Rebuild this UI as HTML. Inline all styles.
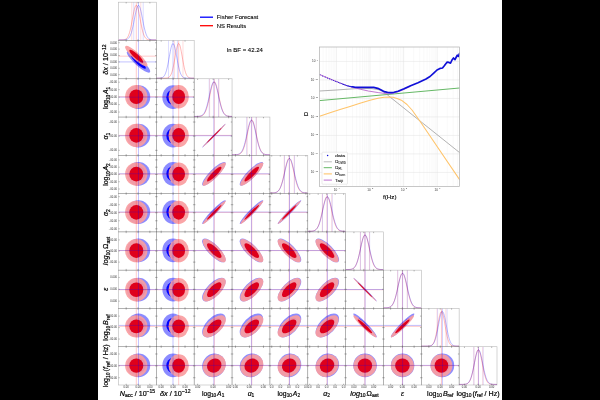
<!DOCTYPE html>
<html><head><meta charset="utf-8"><title>corner plot</title>
<style>html,body{margin:0;padding:0;background:#000;}body{width:600px;height:400px;overflow:hidden;font-family:"Liberation Sans",sans-serif;}svg{display:block;will-change:transform;}</style>
</head><body>
<svg width="600" height="400" viewBox="0 0 600 400">
<rect x="0" y="0" width="600" height="400" fill="#000"/>
<rect x="98" y="0" width="404" height="400" fill="#fff"/>
<clipPath id="c0_0"><rect x="118.50" y="2.20" width="37.85" height="38.28"/></clipPath>
<g clip-path="url(#c0_0)">
<line x1="136.29" y1="2.20" x2="136.29" y2="40.48" stroke="#ff0000" stroke-opacity="0.42" stroke-width="0.5"/>
<line x1="131.79" y1="2.20" x2="131.79" y2="40.48" stroke="#ff0000" stroke-opacity="0.27" stroke-width="0.5"/>
<line x1="140.79" y1="2.20" x2="140.79" y2="40.48" stroke="#ff0000" stroke-opacity="0.27" stroke-width="0.5"/>
<line x1="138.48" y1="2.20" x2="138.48" y2="40.48" stroke="#0000ff" stroke-opacity="0.42" stroke-width="0.5"/>
<line x1="133.76" y1="2.20" x2="133.76" y2="40.48" stroke="#0000ff" stroke-opacity="0.27" stroke-width="0.5"/>
<line x1="143.21" y1="2.20" x2="143.21" y2="40.48" stroke="#0000ff" stroke-opacity="0.27" stroke-width="0.5"/>
<polyline points="118.50,39.88 118.98,39.88 119.46,39.88 119.94,39.88 120.42,39.87 120.90,39.87 121.37,39.86 121.85,39.85 122.33,39.83 122.81,39.81 123.29,39.77 123.77,39.71 124.25,39.63 124.73,39.51 125.21,39.35 125.69,39.13 126.17,38.82 126.64,38.42 127.12,37.90 127.60,37.23 128.08,36.39 128.56,35.35 129.04,34.10 129.52,32.61 130.00,30.89 130.48,28.93 130.96,26.74 131.44,24.37 131.92,21.85 132.39,19.25 132.87,16.64 133.35,14.10 133.83,11.73 134.31,9.61 134.79,7.85 135.27,6.50 135.75,5.64 136.23,5.30 136.71,5.50 137.19,6.23 137.66,7.46 138.14,9.12 138.62,11.15 139.10,13.46 139.58,15.96 140.06,18.57 140.54,21.18 141.02,23.73 141.50,26.14 141.98,28.38 142.46,30.40 142.93,32.19 143.41,33.74 143.89,35.05 144.37,36.14 144.85,37.03 145.33,37.74 145.81,38.30 146.29,38.73 146.77,39.06 147.25,39.30 147.73,39.48 148.21,39.60 148.68,39.69 149.16,39.76 149.64,39.80 150.12,39.83 150.60,39.85 151.08,39.86 151.56,39.87 152.04,39.87 152.52,39.88 153.00,39.88 153.48,39.88 153.95,39.88 154.43,39.88 154.91,39.88 155.39,39.88 155.87,39.88 156.35,39.88" fill="none" stroke="#ff0000" stroke-opacity="0.55" stroke-width="0.5"/>
<polyline points="118.50,39.88 118.98,39.88 119.46,39.88 119.94,39.88 120.42,39.88 120.90,39.88 121.37,39.88 121.85,39.87 122.33,39.87 122.81,39.86 123.29,39.85 123.77,39.84 124.25,39.81 124.73,39.78 125.21,39.73 125.69,39.66 126.17,39.56 126.64,39.43 127.12,39.24 127.60,38.99 128.08,38.66 128.56,38.23 129.04,37.69 129.52,37.00 130.00,36.15 130.48,35.12 130.96,33.88 131.44,32.44 131.92,30.78 132.39,28.90 132.87,26.82 133.35,24.57 133.83,22.18 134.31,19.70 134.79,17.21 135.27,14.76 135.75,12.45 136.23,10.34 136.71,8.52 137.19,7.06 137.66,6.01 138.14,5.42 138.62,5.32 139.10,5.70 139.58,6.56 140.06,7.85 140.54,9.53 141.02,11.53 141.50,13.76 141.98,16.16 142.46,18.64 142.93,21.13 143.41,23.57 143.89,25.88 144.37,28.04 144.85,30.01 145.33,31.76 145.81,33.30 146.29,34.62 146.77,35.74 147.25,36.66 147.73,37.41 148.21,38.02 148.68,38.49 149.16,38.86 149.64,39.14 150.12,39.35 150.60,39.51 151.08,39.62 151.56,39.70 152.04,39.76 152.52,39.80 153.00,39.83 153.48,39.85 153.95,39.86 154.43,39.87 154.91,39.87 155.39,39.87 155.87,39.88 156.35,39.88" fill="none" stroke="#0000ff" stroke-opacity="0.55" stroke-width="0.5"/>
</g>
<path d="M126.18,40.48v-1.25M126.18,2.20v1.25M138.03,40.48v-1.25M138.03,2.20v1.25M149.88,40.48v-1.25M149.88,2.20v1.25" stroke="#444" stroke-width="0.38" fill="none"/>
<rect x="118.50" y="2.20" width="37.85" height="38.28" fill="none" stroke="#1a1a1a" stroke-opacity="0.31" stroke-width="0.6"/>
<clipPath id="c1_0"><rect x="118.50" y="40.48" width="37.85" height="38.28"/></clipPath>
<g clip-path="url(#c1_0)">
<ellipse cx="0" cy="0" rx="15.46" ry="3.71" fill="#8c8cff" transform="translate(138.48,61.92) rotate(-137.80)"/>
<ellipse cx="0" cy="0" rx="9.71" ry="2.33" fill="#0000ff" transform="translate(138.48,61.92) rotate(-137.80)"/>
<ellipse cx="0" cy="0" rx="14.77" ry="3.55" fill="rgba(250,157,160,0.92)" transform="translate(136.29,56.17) rotate(-137.67)"/>
<ellipse cx="0" cy="0" rx="9.27" ry="2.23" fill="#de001c" transform="translate(136.29,56.17) rotate(-137.67)"/>
<line x1="136.29" y1="40.48" x2="136.29" y2="78.76" stroke="#ff0000" stroke-opacity="0.42" stroke-width="0.5"/>
<line x1="118.50" y1="56.17" x2="156.35" y2="56.17" stroke="#ff0000" stroke-opacity="0.42" stroke-width="0.5"/>
<line x1="138.48" y1="40.48" x2="138.48" y2="78.76" stroke="#0000ff" stroke-opacity="0.48" stroke-width="0.5"/>
<line x1="118.50" y1="61.92" x2="156.35" y2="61.92" stroke="#0000ff" stroke-opacity="0.48" stroke-width="0.5"/>
</g>
<path d="M126.18,78.76v-1.25M126.18,40.48v1.25M138.03,78.76v-1.25M138.03,40.48v1.25M149.88,78.76v-1.25M149.88,40.48v1.25M118.50,74.70h1.25M156.35,74.70h-1.25M118.50,68.31h1.25M156.35,68.31h-1.25M118.50,61.92h1.25M156.35,61.92h-1.25M118.50,55.52h1.25M156.35,55.52h-1.25M118.50,49.13h1.25M156.35,49.13h-1.25M118.50,42.74h1.25M156.35,42.74h-1.25" stroke="#444" stroke-width="0.38" fill="none"/>
<rect x="118.50" y="40.48" width="37.85" height="38.28" fill="none" stroke="#1a1a1a" stroke-opacity="0.31" stroke-width="0.6"/>
<clipPath id="c1_1"><rect x="156.35" y="40.48" width="37.85" height="38.28"/></clipPath>
<g clip-path="url(#c1_1)">
<line x1="178.68" y1="40.48" x2="178.68" y2="78.76" stroke="#ff0000" stroke-opacity="0.42" stroke-width="0.5"/>
<line x1="174.40" y1="40.48" x2="174.40" y2="78.76" stroke="#ff0000" stroke-opacity="0.27" stroke-width="0.5"/>
<line x1="182.97" y1="40.48" x2="182.97" y2="78.76" stroke="#ff0000" stroke-opacity="0.27" stroke-width="0.5"/>
<line x1="173.00" y1="40.48" x2="173.00" y2="78.76" stroke="#0000ff" stroke-opacity="0.42" stroke-width="0.5"/>
<line x1="168.53" y1="40.48" x2="168.53" y2="78.76" stroke="#0000ff" stroke-opacity="0.27" stroke-width="0.5"/>
<line x1="177.48" y1="40.48" x2="177.48" y2="78.76" stroke="#0000ff" stroke-opacity="0.27" stroke-width="0.5"/>
<polyline points="156.35,78.16 156.83,78.16 157.31,78.16 157.79,78.16 158.27,78.16 158.75,78.16 159.22,78.16 159.70,78.16 160.18,78.16 160.66,78.16 161.14,78.16 161.62,78.16 162.10,78.16 162.58,78.16 163.06,78.16 163.54,78.15 164.02,78.15 164.49,78.14 164.97,78.13 165.45,78.12 165.93,78.09 166.41,78.05 166.89,77.99 167.37,77.90 167.85,77.77 168.33,77.59 168.81,77.33 169.29,76.98 169.77,76.51 170.24,75.90 170.72,75.10 171.20,74.10 171.68,72.87 172.16,71.37 172.64,69.62 173.12,67.59 173.60,65.31 174.08,62.81 174.56,60.14 175.04,57.38 175.51,54.61 175.99,51.94 176.47,49.47 176.95,47.32 177.43,45.59 177.91,44.36 178.39,43.69 178.87,43.63 179.35,44.16 179.83,45.27 180.31,46.90 180.78,48.97 181.26,51.37 181.74,54.01 182.22,56.77 182.70,59.54 183.18,62.23 183.66,64.77 184.14,67.11 184.62,69.19 185.10,71.01 185.58,72.56 186.06,73.85 186.53,74.90 187.01,75.74 187.49,76.39 187.97,76.89 188.45,77.27 188.93,77.54 189.41,77.74 189.89,77.88 190.37,77.97 190.85,78.04 191.33,78.08 191.80,78.11 192.28,78.13 192.76,78.14 193.24,78.15 193.72,78.15 194.20,78.16" fill="none" stroke="#ff0000" stroke-opacity="0.55" stroke-width="0.5"/>
<polyline points="156.35,78.16 156.83,78.16 157.31,78.15 157.79,78.15 158.27,78.14 158.75,78.13 159.22,78.12 159.70,78.09 160.18,78.05 160.66,77.99 161.14,77.91 161.62,77.79 162.10,77.63 162.58,77.40 163.06,77.08 163.54,76.67 164.02,76.13 164.49,75.43 164.97,74.56 165.45,73.48 165.93,72.17 166.41,70.63 166.89,68.84 167.37,66.80 167.85,64.54 168.33,62.10 168.81,59.52 169.29,56.86 169.77,54.22 170.24,51.69 170.72,49.35 171.20,47.30 171.68,45.64 172.16,44.43 172.64,43.74 173.12,43.60 173.60,44.01 174.08,44.95 174.56,46.38 175.04,48.24 175.51,50.44 175.99,52.88 176.47,55.48 176.95,58.14 177.43,60.77 177.91,63.29 178.39,65.65 178.87,67.81 179.35,69.73 179.83,71.40 180.31,72.83 180.78,74.02 181.26,75.00 181.74,75.78 182.22,76.40 182.70,76.88 183.18,77.24 183.66,77.51 184.14,77.71 184.62,77.85 185.10,77.96 185.58,78.02 186.06,78.07 186.53,78.10 187.01,78.12 187.49,78.14 187.97,78.15 188.45,78.15 188.93,78.16 189.41,78.16 189.89,78.16 190.37,78.16 190.85,78.16 191.33,78.16 191.80,78.16 192.28,78.16 192.76,78.16 193.24,78.16 193.72,78.16 194.20,78.16" fill="none" stroke="#0000ff" stroke-opacity="0.55" stroke-width="0.5"/>
</g>
<path d="M161.19,78.76v-1.25M161.19,40.48v1.25M173.12,78.76v-1.25M173.12,40.48v1.25M185.04,78.76v-1.25M185.04,40.48v1.25" stroke="#444" stroke-width="0.38" fill="none"/>
<rect x="156.35" y="40.48" width="37.85" height="38.28" fill="none" stroke="#1a1a1a" stroke-opacity="0.31" stroke-width="0.6"/>
<clipPath id="c2_0"><rect x="118.50" y="78.76" width="37.85" height="38.28"/></clipPath>
<g clip-path="url(#c2_0)">
<ellipse cx="0" cy="0" rx="11.86" ry="11.72" fill="#8c8cff" transform="translate(138.48,97.13) rotate(90.00)"/>
<ellipse cx="0" cy="0" rx="7.45" ry="7.36" fill="#0000ff" transform="translate(138.48,97.13) rotate(90.00)"/>
<ellipse cx="0" cy="0" rx="11.67" ry="11.17" fill="rgba(250,157,160,0.92)" transform="translate(136.29,96.75) rotate(90.00)"/>
<ellipse cx="0" cy="0" rx="7.33" ry="7.02" fill="#de001c" transform="translate(136.29,96.75) rotate(90.00)"/>
<line x1="136.29" y1="78.76" x2="136.29" y2="117.04" stroke="#ff0000" stroke-opacity="0.42" stroke-width="0.5"/>
<line x1="118.50" y1="96.75" x2="156.35" y2="96.75" stroke="#ff0000" stroke-opacity="0.42" stroke-width="0.5"/>
<line x1="138.48" y1="78.76" x2="138.48" y2="117.04" stroke="#0000ff" stroke-opacity="0.48" stroke-width="0.5"/>
<line x1="118.50" y1="97.13" x2="156.35" y2="97.13" stroke="#0000ff" stroke-opacity="0.48" stroke-width="0.5"/>
</g>
<path d="M126.18,117.04v-1.25M126.18,78.76v1.25M138.03,117.04v-1.25M138.03,78.76v1.25M149.88,117.04v-1.25M149.88,78.76v1.25M118.50,112.06h1.25M156.35,112.06h-1.25M118.50,104.60h1.25M156.35,104.60h-1.25M118.50,97.13h1.25M156.35,97.13h-1.25M118.50,89.67h1.25M156.35,89.67h-1.25M118.50,82.21h1.25M156.35,82.21h-1.25" stroke="#444" stroke-width="0.38" fill="none"/>
<rect x="118.50" y="78.76" width="37.85" height="38.28" fill="none" stroke="#1a1a1a" stroke-opacity="0.31" stroke-width="0.6"/>
<clipPath id="c2_1"><rect x="156.35" y="78.76" width="37.85" height="38.28"/></clipPath>
<g clip-path="url(#c2_1)">
<ellipse cx="0" cy="0" rx="11.86" ry="10.63" fill="#8c8cff" transform="translate(173.00,97.13) rotate(90.00)"/>
<ellipse cx="0" cy="0" rx="7.45" ry="6.67" fill="#0000ff" transform="translate(173.00,97.13) rotate(90.00)"/>
<ellipse cx="0" cy="0" rx="11.67" ry="10.17" fill="rgba(250,157,160,0.92)" transform="translate(178.68,96.75) rotate(90.00)"/>
<ellipse cx="0" cy="0" rx="7.33" ry="6.39" fill="#de001c" transform="translate(178.68,96.75) rotate(90.00)"/>
<line x1="178.68" y1="78.76" x2="178.68" y2="117.04" stroke="#ff0000" stroke-opacity="0.42" stroke-width="0.5"/>
<line x1="156.35" y1="96.75" x2="194.20" y2="96.75" stroke="#ff0000" stroke-opacity="0.42" stroke-width="0.5"/>
<line x1="173.00" y1="78.76" x2="173.00" y2="117.04" stroke="#0000ff" stroke-opacity="0.48" stroke-width="0.5"/>
<line x1="156.35" y1="97.13" x2="194.20" y2="97.13" stroke="#0000ff" stroke-opacity="0.48" stroke-width="0.5"/>
</g>
<path d="M161.19,117.04v-1.25M161.19,78.76v1.25M173.12,117.04v-1.25M173.12,78.76v1.25M185.04,117.04v-1.25M185.04,78.76v1.25M156.35,112.06h1.25M194.20,112.06h-1.25M156.35,104.60h1.25M194.20,104.60h-1.25M156.35,97.13h1.25M194.20,97.13h-1.25M156.35,89.67h1.25M194.20,89.67h-1.25M156.35,82.21h1.25M194.20,82.21h-1.25" stroke="#444" stroke-width="0.38" fill="none"/>
<rect x="156.35" y="78.76" width="37.85" height="38.28" fill="none" stroke="#1a1a1a" stroke-opacity="0.31" stroke-width="0.6"/>
<clipPath id="c2_2"><rect x="194.20" y="78.76" width="37.85" height="38.28"/></clipPath>
<g clip-path="url(#c2_2)">
<line x1="214.26" y1="78.76" x2="214.26" y2="117.04" stroke="#ff0000" stroke-opacity="0.42" stroke-width="0.5"/>
<line x1="209.63" y1="78.76" x2="209.63" y2="117.04" stroke="#ff0000" stroke-opacity="0.27" stroke-width="0.5"/>
<line x1="218.89" y1="78.76" x2="218.89" y2="117.04" stroke="#ff0000" stroke-opacity="0.27" stroke-width="0.5"/>
<line x1="213.88" y1="78.76" x2="213.88" y2="117.04" stroke="#0000ff" stroke-opacity="0.42" stroke-width="0.5"/>
<line x1="209.18" y1="78.76" x2="209.18" y2="117.04" stroke="#0000ff" stroke-opacity="0.27" stroke-width="0.5"/>
<line x1="218.58" y1="78.76" x2="218.58" y2="117.04" stroke="#0000ff" stroke-opacity="0.27" stroke-width="0.5"/>
<polyline points="194.20,116.44 194.68,116.44 195.16,116.44 195.64,116.43 196.12,116.43 196.60,116.43 197.07,116.42 197.55,116.41 198.03,116.40 198.51,116.38 198.99,116.35 199.47,116.31 199.95,116.25 200.43,116.17 200.91,116.07 201.39,115.93 201.87,115.74 202.34,115.50 202.82,115.20 203.30,114.81 203.78,114.32 204.26,113.72 204.74,112.99 205.22,112.11 205.70,111.07 206.18,109.87 206.66,108.49 207.14,106.92 207.62,105.18 208.09,103.28 208.57,101.24 209.05,99.08 209.53,96.85 210.01,94.59 210.49,92.35 210.97,90.18 211.45,88.16 211.93,86.33 212.41,84.75 212.89,83.48 213.36,82.56 213.84,82.01 214.32,81.86 214.80,82.12 215.28,82.76 215.76,83.78 216.24,85.14 216.72,86.78 217.20,88.67 217.68,90.74 218.16,92.93 218.63,95.18 219.11,97.44 219.59,99.65 220.07,101.78 220.55,103.79 221.03,105.65 221.51,107.35 221.99,108.86 222.47,110.20 222.95,111.36 223.43,112.35 223.91,113.19 224.38,113.88 224.86,114.45 225.34,114.92 225.82,115.28 226.30,115.57 226.78,115.80 227.26,115.97 227.74,116.10 228.22,116.20 228.70,116.27 229.18,116.32 229.65,116.36 230.13,116.38 230.61,116.40 231.09,116.41 231.57,116.42 232.05,116.43" fill="none" stroke="#ff0000" stroke-opacity="0.55" stroke-width="0.5"/>
<polyline points="194.20,116.44 194.68,116.44 195.16,116.43 195.64,116.43 196.12,116.43 196.60,116.42 197.07,116.41 197.55,116.39 198.03,116.37 198.51,116.34 198.99,116.29 199.47,116.23 199.95,116.15 200.43,116.04 200.91,115.89 201.39,115.70 201.87,115.45 202.34,115.14 202.82,114.74 203.30,114.24 203.78,113.64 204.26,112.90 204.74,112.02 205.22,110.99 205.70,109.79 206.18,108.42 206.66,106.88 207.14,105.17 207.62,103.30 208.09,101.29 208.57,99.17 209.05,96.97 209.53,94.74 210.01,92.53 210.49,90.39 210.97,88.38 211.45,86.55 211.93,84.97 212.41,83.67 212.89,82.70 213.36,82.09 213.84,81.86 214.32,82.03 214.80,82.57 215.28,83.49 215.76,84.74 216.24,86.28 216.72,88.08 217.20,90.06 217.68,92.18 218.16,94.39 218.63,96.62 219.11,98.82 219.59,100.95 220.07,102.98 220.55,104.88 221.03,106.62 221.51,108.19 221.99,109.59 222.47,110.81 222.95,111.87 223.43,112.77 223.91,113.53 224.38,114.15 224.86,114.67 225.34,115.08 225.82,115.41 226.30,115.67 226.78,115.87 227.26,116.02 227.74,116.13 228.22,116.22 228.70,116.28 229.18,116.33 229.65,116.36 230.13,116.39 230.61,116.40 231.09,116.42 231.57,116.42 232.05,116.43" fill="none" stroke="#0000ff" stroke-opacity="0.55" stroke-width="0.5"/>
</g>
<path d="M197.61,117.04v-1.25M197.61,78.76v1.25M213.12,117.04v-1.25M213.12,78.76v1.25M228.64,117.04v-1.25M228.64,78.76v1.25" stroke="#444" stroke-width="0.38" fill="none"/>
<rect x="194.20" y="78.76" width="37.85" height="38.28" fill="none" stroke="#1a1a1a" stroke-opacity="0.31" stroke-width="0.6"/>
<clipPath id="c3_0"><rect x="118.50" y="117.04" width="37.85" height="38.28"/></clipPath>
<g clip-path="url(#c3_0)">
<ellipse cx="0" cy="0" rx="11.86" ry="11.72" fill="#8c8cff" transform="translate(138.48,135.72) rotate(90.00)"/>
<ellipse cx="0" cy="0" rx="7.45" ry="7.36" fill="#0000ff" transform="translate(138.48,135.72) rotate(90.00)"/>
<ellipse cx="0" cy="0" rx="11.67" ry="11.17" fill="rgba(250,157,160,0.92)" transform="translate(136.29,135.38) rotate(90.00)"/>
<ellipse cx="0" cy="0" rx="7.33" ry="7.02" fill="#de001c" transform="translate(136.29,135.38) rotate(90.00)"/>
<line x1="136.29" y1="117.04" x2="136.29" y2="155.32" stroke="#ff0000" stroke-opacity="0.42" stroke-width="0.5"/>
<line x1="118.50" y1="135.38" x2="156.35" y2="135.38" stroke="#ff0000" stroke-opacity="0.42" stroke-width="0.5"/>
<line x1="138.48" y1="117.04" x2="138.48" y2="155.32" stroke="#0000ff" stroke-opacity="0.48" stroke-width="0.5"/>
<line x1="118.50" y1="135.72" x2="156.35" y2="135.72" stroke="#0000ff" stroke-opacity="0.48" stroke-width="0.5"/>
</g>
<path d="M126.18,155.32v-1.25M126.18,117.04v1.25M138.03,155.32v-1.25M138.03,117.04v1.25M149.88,155.32v-1.25M149.88,117.04v1.25M118.50,150.34h1.25M156.35,150.34h-1.25M118.50,136.18h1.25M156.35,136.18h-1.25M118.50,122.02h1.25M156.35,122.02h-1.25" stroke="#444" stroke-width="0.38" fill="none"/>
<rect x="118.50" y="117.04" width="37.85" height="38.28" fill="none" stroke="#1a1a1a" stroke-opacity="0.31" stroke-width="0.6"/>
<clipPath id="c3_1"><rect x="156.35" y="117.04" width="37.85" height="38.28"/></clipPath>
<g clip-path="url(#c3_1)">
<ellipse cx="0" cy="0" rx="11.86" ry="10.63" fill="#8c8cff" transform="translate(173.00,135.72) rotate(90.00)"/>
<ellipse cx="0" cy="0" rx="7.45" ry="6.67" fill="#0000ff" transform="translate(173.00,135.72) rotate(90.00)"/>
<ellipse cx="0" cy="0" rx="11.67" ry="10.17" fill="rgba(250,157,160,0.92)" transform="translate(178.68,135.38) rotate(90.00)"/>
<ellipse cx="0" cy="0" rx="7.33" ry="6.39" fill="#de001c" transform="translate(178.68,135.38) rotate(90.00)"/>
<line x1="178.68" y1="117.04" x2="178.68" y2="155.32" stroke="#ff0000" stroke-opacity="0.42" stroke-width="0.5"/>
<line x1="156.35" y1="135.38" x2="194.20" y2="135.38" stroke="#ff0000" stroke-opacity="0.42" stroke-width="0.5"/>
<line x1="173.00" y1="117.04" x2="173.00" y2="155.32" stroke="#0000ff" stroke-opacity="0.48" stroke-width="0.5"/>
<line x1="156.35" y1="135.72" x2="194.20" y2="135.72" stroke="#0000ff" stroke-opacity="0.48" stroke-width="0.5"/>
</g>
<path d="M161.19,155.32v-1.25M161.19,117.04v1.25M173.12,155.32v-1.25M173.12,117.04v1.25M185.04,155.32v-1.25M185.04,117.04v1.25M156.35,150.34h1.25M194.20,150.34h-1.25M156.35,136.18h1.25M194.20,136.18h-1.25M156.35,122.02h1.25M194.20,122.02h-1.25" stroke="#444" stroke-width="0.38" fill="none"/>
<rect x="156.35" y="117.04" width="37.85" height="38.28" fill="none" stroke="#1a1a1a" stroke-opacity="0.31" stroke-width="0.6"/>
<clipPath id="c3_2"><rect x="194.20" y="117.04" width="37.85" height="38.28"/></clipPath>
<g clip-path="url(#c3_2)">
<ellipse cx="0" cy="0" rx="16.66" ry="0.75" fill="#8c8cff" transform="translate(213.88,135.72) rotate(134.68)"/>
<ellipse cx="0" cy="0" rx="10.46" ry="0.47" fill="#0000ff" transform="translate(213.88,135.72) rotate(134.68)"/>
<ellipse cx="0" cy="0" rx="16.40" ry="0.69" fill="rgba(250,157,160,0.92)" transform="translate(214.26,135.38) rotate(134.68)"/>
<ellipse cx="0" cy="0" rx="10.30" ry="0.43" fill="#de001c" transform="translate(214.26,135.38) rotate(134.68)"/>
<line x1="214.26" y1="117.04" x2="214.26" y2="155.32" stroke="#ff0000" stroke-opacity="0.42" stroke-width="0.5"/>
<line x1="194.20" y1="135.38" x2="232.05" y2="135.38" stroke="#ff0000" stroke-opacity="0.42" stroke-width="0.5"/>
<line x1="213.88" y1="117.04" x2="213.88" y2="155.32" stroke="#0000ff" stroke-opacity="0.48" stroke-width="0.5"/>
<line x1="194.20" y1="135.72" x2="232.05" y2="135.72" stroke="#0000ff" stroke-opacity="0.48" stroke-width="0.5"/>
</g>
<path d="M197.61,155.32v-1.25M197.61,117.04v1.25M213.12,155.32v-1.25M213.12,117.04v1.25M228.64,155.32v-1.25M228.64,117.04v1.25M194.20,150.34h1.25M232.05,150.34h-1.25M194.20,136.18h1.25M232.05,136.18h-1.25M194.20,122.02h1.25M232.05,122.02h-1.25" stroke="#444" stroke-width="0.38" fill="none"/>
<rect x="194.20" y="117.04" width="37.85" height="38.28" fill="none" stroke="#1a1a1a" stroke-opacity="0.31" stroke-width="0.6"/>
<clipPath id="c3_3"><rect x="232.05" y="117.04" width="37.85" height="38.28"/></clipPath>
<g clip-path="url(#c3_3)">
<line x1="251.77" y1="117.04" x2="251.77" y2="155.32" stroke="#ff0000" stroke-opacity="0.42" stroke-width="0.5"/>
<line x1="247.14" y1="117.04" x2="247.14" y2="155.32" stroke="#ff0000" stroke-opacity="0.27" stroke-width="0.5"/>
<line x1="256.40" y1="117.04" x2="256.40" y2="155.32" stroke="#ff0000" stroke-opacity="0.27" stroke-width="0.5"/>
<line x1="251.43" y1="117.04" x2="251.43" y2="155.32" stroke="#0000ff" stroke-opacity="0.42" stroke-width="0.5"/>
<line x1="246.73" y1="117.04" x2="246.73" y2="155.32" stroke="#0000ff" stroke-opacity="0.27" stroke-width="0.5"/>
<line x1="256.13" y1="117.04" x2="256.13" y2="155.32" stroke="#0000ff" stroke-opacity="0.27" stroke-width="0.5"/>
<polyline points="232.05,154.72 232.53,154.72 233.01,154.72 233.49,154.71 233.97,154.71 234.45,154.71 234.92,154.70 235.40,154.69 235.88,154.67 236.36,154.65 236.84,154.61 237.32,154.57 237.80,154.50 238.28,154.41 238.76,154.29 239.24,154.14 239.72,153.93 240.19,153.65 240.67,153.31 241.15,152.87 241.63,152.32 242.11,151.65 242.59,150.84 243.07,149.88 243.55,148.74 244.03,147.43 244.51,145.93 244.99,144.26 245.47,142.40 245.94,140.40 246.42,138.26 246.90,136.03 247.38,133.75 247.86,131.47 248.34,129.24 248.82,127.14 249.30,125.21 249.78,123.53 250.26,122.14 250.74,121.09 251.21,120.42 251.69,120.15 252.17,120.29 252.65,120.83 253.13,121.76 253.61,123.05 254.09,124.65 254.57,126.50 255.05,128.56 255.53,130.75 256.01,133.02 256.48,135.31 256.96,137.56 257.44,139.73 257.92,141.78 258.40,143.68 258.88,145.42 259.36,146.97 259.84,148.35 260.32,149.54 260.80,150.55 261.28,151.41 261.76,152.12 262.23,152.71 262.71,153.18 263.19,153.55 263.67,153.85 264.15,154.07 264.63,154.25 265.11,154.38 265.59,154.48 266.07,154.55 266.55,154.60 267.03,154.64 267.50,154.66 267.98,154.68 268.46,154.70 268.94,154.70 269.42,154.71 269.90,154.71" fill="none" stroke="#ff0000" stroke-opacity="0.55" stroke-width="0.5"/>
<polyline points="232.05,154.72 232.53,154.72 233.01,154.71 233.49,154.71 233.97,154.70 234.45,154.70 234.92,154.68 235.40,154.67 235.88,154.64 236.36,154.61 236.84,154.56 237.32,154.49 237.80,154.40 238.28,154.27 238.76,154.11 239.24,153.90 239.72,153.63 240.19,153.28 240.67,152.84 241.15,152.30 241.63,151.63 242.11,150.83 242.59,149.88 243.07,148.76 243.55,147.47 244.03,146.01 244.51,144.37 244.99,142.56 245.47,140.59 245.94,138.50 246.42,136.31 246.90,134.07 247.38,131.82 247.86,129.62 248.34,127.52 248.82,125.59 249.30,123.88 249.78,122.44 250.26,121.32 250.74,120.56 251.21,120.18 251.69,120.20 252.17,120.62 252.65,121.42 253.13,122.57 253.61,124.04 254.09,125.78 254.57,127.74 255.05,129.85 255.53,132.06 256.01,134.31 256.48,136.55 256.96,138.72 257.44,140.80 257.92,142.75 258.40,144.55 258.88,146.17 259.36,147.62 259.84,148.89 260.32,149.99 260.80,150.92 261.28,151.71 261.76,152.36 262.23,152.89 262.71,153.32 263.19,153.66 263.67,153.92 264.15,154.13 264.63,154.29 265.11,154.41 265.59,154.50 266.07,154.56 266.55,154.61 267.03,154.64 267.50,154.67 267.98,154.69 268.46,154.70 268.94,154.70 269.42,154.71 269.90,154.71" fill="none" stroke="#0000ff" stroke-opacity="0.55" stroke-width="0.5"/>
</g>
<path d="M235.46,155.32v-1.25M235.46,117.04v1.25M249.46,155.32v-1.25M249.46,117.04v1.25M263.47,155.32v-1.25M263.47,117.04v1.25" stroke="#444" stroke-width="0.38" fill="none"/>
<rect x="232.05" y="117.04" width="37.85" height="38.28" fill="none" stroke="#1a1a1a" stroke-opacity="0.31" stroke-width="0.6"/>
<clipPath id="c4_0"><rect x="118.50" y="155.32" width="37.85" height="38.28"/></clipPath>
<g clip-path="url(#c4_0)">
<ellipse cx="0" cy="0" rx="11.86" ry="11.72" fill="#8c8cff" transform="translate(138.48,173.77) rotate(90.00)"/>
<ellipse cx="0" cy="0" rx="7.45" ry="7.36" fill="#0000ff" transform="translate(138.48,173.77) rotate(90.00)"/>
<ellipse cx="0" cy="0" rx="11.67" ry="11.17" fill="rgba(250,157,160,0.92)" transform="translate(136.29,174.08) rotate(90.00)"/>
<ellipse cx="0" cy="0" rx="7.33" ry="7.02" fill="#de001c" transform="translate(136.29,174.08) rotate(90.00)"/>
<line x1="136.29" y1="155.32" x2="136.29" y2="193.60" stroke="#ff0000" stroke-opacity="0.42" stroke-width="0.5"/>
<line x1="118.50" y1="174.08" x2="156.35" y2="174.08" stroke="#ff0000" stroke-opacity="0.42" stroke-width="0.5"/>
<line x1="138.48" y1="155.32" x2="138.48" y2="193.60" stroke="#0000ff" stroke-opacity="0.48" stroke-width="0.5"/>
<line x1="118.50" y1="173.77" x2="156.35" y2="173.77" stroke="#0000ff" stroke-opacity="0.48" stroke-width="0.5"/>
</g>
<path d="M126.18,193.60v-1.25M126.18,155.32v1.25M138.03,193.60v-1.25M138.03,155.32v1.25M149.88,193.60v-1.25M149.88,155.32v1.25M118.50,189.01h1.25M156.35,189.01h-1.25M118.50,181.73h1.25M156.35,181.73h-1.25M118.50,174.46h1.25M156.35,174.46h-1.25M118.50,167.19h1.25M156.35,167.19h-1.25M118.50,159.91h1.25M156.35,159.91h-1.25" stroke="#444" stroke-width="0.38" fill="none"/>
<rect x="118.50" y="155.32" width="37.85" height="38.28" fill="none" stroke="#1a1a1a" stroke-opacity="0.31" stroke-width="0.6"/>
<clipPath id="c4_1"><rect x="156.35" y="155.32" width="37.85" height="38.28"/></clipPath>
<g clip-path="url(#c4_1)">
<ellipse cx="0" cy="0" rx="11.86" ry="10.63" fill="#8c8cff" transform="translate(173.00,173.77) rotate(90.00)"/>
<ellipse cx="0" cy="0" rx="7.45" ry="6.67" fill="#0000ff" transform="translate(173.00,173.77) rotate(90.00)"/>
<ellipse cx="0" cy="0" rx="11.67" ry="10.17" fill="rgba(250,157,160,0.92)" transform="translate(178.68,174.08) rotate(90.00)"/>
<ellipse cx="0" cy="0" rx="7.33" ry="6.39" fill="#de001c" transform="translate(178.68,174.08) rotate(90.00)"/>
<line x1="178.68" y1="155.32" x2="178.68" y2="193.60" stroke="#ff0000" stroke-opacity="0.42" stroke-width="0.5"/>
<line x1="156.35" y1="174.08" x2="194.20" y2="174.08" stroke="#ff0000" stroke-opacity="0.42" stroke-width="0.5"/>
<line x1="173.00" y1="155.32" x2="173.00" y2="193.60" stroke="#0000ff" stroke-opacity="0.48" stroke-width="0.5"/>
<line x1="156.35" y1="173.77" x2="194.20" y2="173.77" stroke="#0000ff" stroke-opacity="0.48" stroke-width="0.5"/>
</g>
<path d="M161.19,193.60v-1.25M161.19,155.32v1.25M173.12,193.60v-1.25M173.12,155.32v1.25M185.04,193.60v-1.25M185.04,155.32v1.25M156.35,189.01h1.25M194.20,189.01h-1.25M156.35,181.73h1.25M194.20,181.73h-1.25M156.35,174.46h1.25M194.20,174.46h-1.25M156.35,167.19h1.25M194.20,167.19h-1.25M156.35,159.91h1.25M194.20,159.91h-1.25" stroke="#444" stroke-width="0.38" fill="none"/>
<rect x="156.35" y="155.32" width="37.85" height="38.28" fill="none" stroke="#1a1a1a" stroke-opacity="0.31" stroke-width="0.6"/>
<clipPath id="c4_2"><rect x="194.20" y="155.32" width="37.85" height="38.28"/></clipPath>
<g clip-path="url(#c4_2)">
<ellipse cx="0" cy="0" rx="16.15" ry="4.17" fill="#8c8cff" transform="translate(213.88,173.77) rotate(134.63)"/>
<ellipse cx="0" cy="0" rx="10.14" ry="2.62" fill="#0000ff" transform="translate(213.88,173.77) rotate(134.63)"/>
<ellipse cx="0" cy="0" rx="15.96" ry="3.85" fill="rgba(250,157,160,0.92)" transform="translate(214.26,174.08) rotate(134.64)"/>
<ellipse cx="0" cy="0" rx="10.02" ry="2.42" fill="#de001c" transform="translate(214.26,174.08) rotate(134.64)"/>
<line x1="214.26" y1="155.32" x2="214.26" y2="193.60" stroke="#ff0000" stroke-opacity="0.42" stroke-width="0.5"/>
<line x1="194.20" y1="174.08" x2="232.05" y2="174.08" stroke="#ff0000" stroke-opacity="0.42" stroke-width="0.5"/>
<line x1="213.88" y1="155.32" x2="213.88" y2="193.60" stroke="#0000ff" stroke-opacity="0.48" stroke-width="0.5"/>
<line x1="194.20" y1="173.77" x2="232.05" y2="173.77" stroke="#0000ff" stroke-opacity="0.48" stroke-width="0.5"/>
</g>
<path d="M197.61,193.60v-1.25M197.61,155.32v1.25M213.12,193.60v-1.25M213.12,155.32v1.25M228.64,193.60v-1.25M228.64,155.32v1.25M194.20,189.01h1.25M232.05,189.01h-1.25M194.20,181.73h1.25M232.05,181.73h-1.25M194.20,174.46h1.25M232.05,174.46h-1.25M194.20,167.19h1.25M232.05,167.19h-1.25M194.20,159.91h1.25M232.05,159.91h-1.25" stroke="#444" stroke-width="0.38" fill="none"/>
<rect x="194.20" y="155.32" width="37.85" height="38.28" fill="none" stroke="#1a1a1a" stroke-opacity="0.31" stroke-width="0.6"/>
<clipPath id="c4_3"><rect x="232.05" y="155.32" width="37.85" height="38.28"/></clipPath>
<g clip-path="url(#c4_3)">
<ellipse cx="0" cy="0" rx="16.15" ry="4.17" fill="#8c8cff" transform="translate(251.43,173.77) rotate(134.63)"/>
<ellipse cx="0" cy="0" rx="10.14" ry="2.62" fill="#0000ff" transform="translate(251.43,173.77) rotate(134.63)"/>
<ellipse cx="0" cy="0" rx="15.96" ry="3.85" fill="rgba(250,157,160,0.92)" transform="translate(251.77,174.08) rotate(134.64)"/>
<ellipse cx="0" cy="0" rx="10.02" ry="2.42" fill="#de001c" transform="translate(251.77,174.08) rotate(134.64)"/>
<line x1="251.77" y1="155.32" x2="251.77" y2="193.60" stroke="#ff0000" stroke-opacity="0.42" stroke-width="0.5"/>
<line x1="232.05" y1="174.08" x2="269.90" y2="174.08" stroke="#ff0000" stroke-opacity="0.42" stroke-width="0.5"/>
<line x1="251.43" y1="155.32" x2="251.43" y2="193.60" stroke="#0000ff" stroke-opacity="0.48" stroke-width="0.5"/>
<line x1="232.05" y1="173.77" x2="269.90" y2="173.77" stroke="#0000ff" stroke-opacity="0.48" stroke-width="0.5"/>
</g>
<path d="M235.46,193.60v-1.25M235.46,155.32v1.25M249.46,193.60v-1.25M249.46,155.32v1.25M263.47,193.60v-1.25M263.47,155.32v1.25M232.05,189.01h1.25M269.90,189.01h-1.25M232.05,181.73h1.25M269.90,181.73h-1.25M232.05,174.46h1.25M269.90,174.46h-1.25M232.05,167.19h1.25M269.90,167.19h-1.25M232.05,159.91h1.25M269.90,159.91h-1.25" stroke="#444" stroke-width="0.38" fill="none"/>
<rect x="232.05" y="155.32" width="37.85" height="38.28" fill="none" stroke="#1a1a1a" stroke-opacity="0.31" stroke-width="0.6"/>
<clipPath id="c4_4"><rect x="269.90" y="155.32" width="37.85" height="38.28"/></clipPath>
<g clip-path="url(#c4_4)">
<line x1="289.20" y1="155.32" x2="289.20" y2="193.60" stroke="#ff0000" stroke-opacity="0.42" stroke-width="0.5"/>
<line x1="284.24" y1="155.32" x2="284.24" y2="193.60" stroke="#ff0000" stroke-opacity="0.27" stroke-width="0.5"/>
<line x1="294.16" y1="155.32" x2="294.16" y2="193.60" stroke="#ff0000" stroke-opacity="0.27" stroke-width="0.5"/>
<line x1="289.51" y1="155.32" x2="289.51" y2="193.60" stroke="#0000ff" stroke-opacity="0.42" stroke-width="0.5"/>
<line x1="284.47" y1="155.32" x2="284.47" y2="193.60" stroke="#0000ff" stroke-opacity="0.27" stroke-width="0.5"/>
<line x1="294.54" y1="155.32" x2="294.54" y2="193.60" stroke="#0000ff" stroke-opacity="0.27" stroke-width="0.5"/>
<polyline points="269.90,192.99 270.38,192.99 270.86,192.99 271.34,192.98 271.82,192.97 272.30,192.96 272.77,192.94 273.25,192.91 273.73,192.87 274.21,192.82 274.69,192.75 275.17,192.65 275.65,192.53 276.13,192.36 276.61,192.15 277.09,191.88 277.57,191.54 278.04,191.11 278.52,190.59 279.00,189.96 279.48,189.20 279.96,188.30 280.44,187.25 280.92,186.04 281.40,184.67 281.88,183.13 282.36,181.43 282.84,179.59 283.32,177.62 283.79,175.54 284.27,173.40 284.75,171.23 285.23,169.08 285.71,167.00 286.19,165.03 286.67,163.24 287.15,161.67 287.63,160.37 288.11,159.38 288.59,158.73 289.06,158.44 289.54,158.51 290.02,158.96 290.50,159.76 290.98,160.88 291.46,162.30 291.94,163.97 292.42,165.84 292.90,167.86 293.38,169.98 293.86,172.14 294.33,174.31 294.81,176.43 295.29,178.46 295.77,180.38 296.25,182.17 296.73,183.80 297.21,185.27 297.69,186.57 298.17,187.71 298.65,188.70 299.13,189.53 299.61,190.24 300.08,190.82 300.56,191.30 301.04,191.69 301.52,192.00 302.00,192.25 302.48,192.44 302.96,192.58 303.44,192.70 303.92,192.78 304.40,192.84 304.88,192.89 305.35,192.92 305.83,192.95 306.31,192.96 306.79,192.97 307.27,192.98 307.75,192.99" fill="none" stroke="#ff0000" stroke-opacity="0.55" stroke-width="0.5"/>
<polyline points="269.90,192.99 270.38,192.99 270.86,192.99 271.34,192.98 271.82,192.97 272.30,192.96 272.77,192.94 273.25,192.91 273.73,192.88 274.21,192.83 274.69,192.76 275.17,192.67 275.65,192.55 276.13,192.40 276.61,192.20 277.09,191.95 277.57,191.63 278.04,191.23 278.52,190.75 279.00,190.15 279.48,189.44 279.96,188.60 280.44,187.62 280.92,186.49 281.40,185.19 281.88,183.74 282.36,182.13 282.84,180.37 283.32,178.48 283.79,176.48 284.27,174.40 284.75,172.27 285.23,170.14 285.71,168.04 286.19,166.04 286.67,164.18 287.15,162.51 287.63,161.08 288.11,159.92 288.59,159.08 289.06,158.57 289.54,158.42 290.02,158.63 290.50,159.19 290.98,160.08 291.46,161.28 291.94,162.76 292.42,164.46 292.90,166.35 293.38,168.37 293.86,170.47 294.33,172.60 294.81,174.73 295.29,176.80 295.77,178.78 296.25,180.65 296.73,182.39 297.21,183.98 297.69,185.40 298.17,186.67 298.65,187.78 299.13,188.74 299.61,189.56 300.08,190.25 300.56,190.83 301.04,191.30 301.52,191.68 302.00,191.99 302.48,192.23 302.96,192.43 303.44,192.57 303.92,192.69 304.40,192.77 304.88,192.84 305.35,192.88 305.83,192.92 306.31,192.94 306.79,192.96 307.27,192.97 307.75,192.98" fill="none" stroke="#0000ff" stroke-opacity="0.55" stroke-width="0.5"/>
</g>
<path d="M271.72,193.60v-1.25M271.72,155.32v1.25M280.27,193.60v-1.25M280.27,155.32v1.25M288.82,193.60v-1.25M288.82,155.32v1.25M297.38,193.60v-1.25M297.38,155.32v1.25M305.93,193.60v-1.25M305.93,155.32v1.25" stroke="#444" stroke-width="0.38" fill="none"/>
<rect x="269.90" y="155.32" width="37.85" height="38.28" fill="none" stroke="#1a1a1a" stroke-opacity="0.31" stroke-width="0.6"/>
<clipPath id="c5_0"><rect x="118.50" y="193.60" width="37.85" height="38.28"/></clipPath>
<g clip-path="url(#c5_0)">
<ellipse cx="0" cy="0" rx="11.86" ry="11.72" fill="#8c8cff" transform="translate(138.48,212.05) rotate(90.00)"/>
<ellipse cx="0" cy="0" rx="7.45" ry="7.36" fill="#0000ff" transform="translate(138.48,212.05) rotate(90.00)"/>
<ellipse cx="0" cy="0" rx="11.67" ry="11.17" fill="rgba(250,157,160,0.92)" transform="translate(136.29,212.36) rotate(90.00)"/>
<ellipse cx="0" cy="0" rx="7.33" ry="7.02" fill="#de001c" transform="translate(136.29,212.36) rotate(90.00)"/>
<line x1="136.29" y1="193.60" x2="136.29" y2="231.88" stroke="#ff0000" stroke-opacity="0.42" stroke-width="0.5"/>
<line x1="118.50" y1="212.36" x2="156.35" y2="212.36" stroke="#ff0000" stroke-opacity="0.42" stroke-width="0.5"/>
<line x1="138.48" y1="193.60" x2="138.48" y2="231.88" stroke="#0000ff" stroke-opacity="0.48" stroke-width="0.5"/>
<line x1="118.50" y1="212.05" x2="156.35" y2="212.05" stroke="#0000ff" stroke-opacity="0.48" stroke-width="0.5"/>
</g>
<path d="M126.18,231.88v-1.25M126.18,193.60v1.25M138.03,231.88v-1.25M138.03,193.60v1.25M149.88,231.88v-1.25M149.88,193.60v1.25M118.50,228.82h1.25M156.35,228.82h-1.25M118.50,220.78h1.25M156.35,220.78h-1.25M118.50,212.74h1.25M156.35,212.74h-1.25M118.50,204.70h1.25M156.35,204.70h-1.25M118.50,196.66h1.25M156.35,196.66h-1.25" stroke="#444" stroke-width="0.38" fill="none"/>
<rect x="118.50" y="193.60" width="37.85" height="38.28" fill="none" stroke="#1a1a1a" stroke-opacity="0.31" stroke-width="0.6"/>
<clipPath id="c5_1"><rect x="156.35" y="193.60" width="37.85" height="38.28"/></clipPath>
<g clip-path="url(#c5_1)">
<ellipse cx="0" cy="0" rx="11.86" ry="10.63" fill="#8c8cff" transform="translate(173.00,212.05) rotate(90.00)"/>
<ellipse cx="0" cy="0" rx="7.45" ry="6.67" fill="#0000ff" transform="translate(173.00,212.05) rotate(90.00)"/>
<ellipse cx="0" cy="0" rx="11.67" ry="10.17" fill="rgba(250,157,160,0.92)" transform="translate(178.68,212.36) rotate(90.00)"/>
<ellipse cx="0" cy="0" rx="7.33" ry="6.39" fill="#de001c" transform="translate(178.68,212.36) rotate(90.00)"/>
<line x1="178.68" y1="193.60" x2="178.68" y2="231.88" stroke="#ff0000" stroke-opacity="0.42" stroke-width="0.5"/>
<line x1="156.35" y1="212.36" x2="194.20" y2="212.36" stroke="#ff0000" stroke-opacity="0.42" stroke-width="0.5"/>
<line x1="173.00" y1="193.60" x2="173.00" y2="231.88" stroke="#0000ff" stroke-opacity="0.48" stroke-width="0.5"/>
<line x1="156.35" y1="212.05" x2="194.20" y2="212.05" stroke="#0000ff" stroke-opacity="0.48" stroke-width="0.5"/>
</g>
<path d="M161.19,231.88v-1.25M161.19,193.60v1.25M173.12,231.88v-1.25M173.12,193.60v1.25M185.04,231.88v-1.25M185.04,193.60v1.25M156.35,228.82h1.25M194.20,228.82h-1.25M156.35,220.78h1.25M194.20,220.78h-1.25M156.35,212.74h1.25M194.20,212.74h-1.25M156.35,204.70h1.25M194.20,204.70h-1.25M156.35,196.66h1.25M194.20,196.66h-1.25" stroke="#444" stroke-width="0.38" fill="none"/>
<rect x="156.35" y="193.60" width="37.85" height="38.28" fill="none" stroke="#1a1a1a" stroke-opacity="0.31" stroke-width="0.6"/>
<clipPath id="c5_2"><rect x="194.20" y="193.60" width="37.85" height="38.28"/></clipPath>
<g clip-path="url(#c5_2)">
<ellipse cx="0" cy="0" rx="16.50" ry="2.42" fill="#8c8cff" transform="translate(213.88,212.05) rotate(134.66)"/>
<ellipse cx="0" cy="0" rx="10.36" ry="1.52" fill="#0000ff" transform="translate(213.88,212.05) rotate(134.66)"/>
<ellipse cx="0" cy="0" rx="16.31" ry="1.84" fill="rgba(250,157,160,0.92)" transform="translate(214.26,212.36) rotate(134.67)"/>
<ellipse cx="0" cy="0" rx="10.25" ry="1.15" fill="#de001c" transform="translate(214.26,212.36) rotate(134.67)"/>
<line x1="214.26" y1="193.60" x2="214.26" y2="231.88" stroke="#ff0000" stroke-opacity="0.42" stroke-width="0.5"/>
<line x1="194.20" y1="212.36" x2="232.05" y2="212.36" stroke="#ff0000" stroke-opacity="0.42" stroke-width="0.5"/>
<line x1="213.88" y1="193.60" x2="213.88" y2="231.88" stroke="#0000ff" stroke-opacity="0.48" stroke-width="0.5"/>
<line x1="194.20" y1="212.05" x2="232.05" y2="212.05" stroke="#0000ff" stroke-opacity="0.48" stroke-width="0.5"/>
</g>
<path d="M197.61,231.88v-1.25M197.61,193.60v1.25M213.12,231.88v-1.25M213.12,193.60v1.25M228.64,231.88v-1.25M228.64,193.60v1.25M194.20,228.82h1.25M232.05,228.82h-1.25M194.20,220.78h1.25M232.05,220.78h-1.25M194.20,212.74h1.25M232.05,212.74h-1.25M194.20,204.70h1.25M232.05,204.70h-1.25M194.20,196.66h1.25M232.05,196.66h-1.25" stroke="#444" stroke-width="0.38" fill="none"/>
<rect x="194.20" y="193.60" width="37.85" height="38.28" fill="none" stroke="#1a1a1a" stroke-opacity="0.31" stroke-width="0.6"/>
<clipPath id="c5_3"><rect x="232.05" y="193.60" width="37.85" height="38.28"/></clipPath>
<g clip-path="url(#c5_3)">
<ellipse cx="0" cy="0" rx="16.50" ry="2.42" fill="#8c8cff" transform="translate(251.43,212.05) rotate(134.66)"/>
<ellipse cx="0" cy="0" rx="10.36" ry="1.52" fill="#0000ff" transform="translate(251.43,212.05) rotate(134.66)"/>
<ellipse cx="0" cy="0" rx="16.31" ry="1.84" fill="rgba(250,157,160,0.92)" transform="translate(251.77,212.36) rotate(134.67)"/>
<ellipse cx="0" cy="0" rx="10.25" ry="1.15" fill="#de001c" transform="translate(251.77,212.36) rotate(134.67)"/>
<line x1="251.77" y1="193.60" x2="251.77" y2="231.88" stroke="#ff0000" stroke-opacity="0.42" stroke-width="0.5"/>
<line x1="232.05" y1="212.36" x2="269.90" y2="212.36" stroke="#ff0000" stroke-opacity="0.42" stroke-width="0.5"/>
<line x1="251.43" y1="193.60" x2="251.43" y2="231.88" stroke="#0000ff" stroke-opacity="0.48" stroke-width="0.5"/>
<line x1="232.05" y1="212.05" x2="269.90" y2="212.05" stroke="#0000ff" stroke-opacity="0.48" stroke-width="0.5"/>
</g>
<path d="M235.46,231.88v-1.25M235.46,193.60v1.25M249.46,231.88v-1.25M249.46,193.60v1.25M263.47,231.88v-1.25M263.47,193.60v1.25M232.05,228.82h1.25M269.90,228.82h-1.25M232.05,220.78h1.25M269.90,220.78h-1.25M232.05,212.74h1.25M269.90,212.74h-1.25M232.05,204.70h1.25M269.90,204.70h-1.25M232.05,196.66h1.25M269.90,196.66h-1.25" stroke="#444" stroke-width="0.38" fill="none"/>
<rect x="232.05" y="193.60" width="37.85" height="38.28" fill="none" stroke="#1a1a1a" stroke-opacity="0.31" stroke-width="0.6"/>
<clipPath id="c5_4"><rect x="269.90" y="193.60" width="37.85" height="38.28"/></clipPath>
<g clip-path="url(#c5_4)">
<ellipse cx="0" cy="0" rx="16.58" ry="1.75" fill="#8c8cff" transform="translate(289.51,212.05) rotate(134.67)"/>
<ellipse cx="0" cy="0" rx="10.42" ry="1.10" fill="#0000ff" transform="translate(289.51,212.05) rotate(134.67)"/>
<ellipse cx="0" cy="0" rx="16.35" ry="1.42" fill="rgba(250,157,160,0.92)" transform="translate(289.20,212.36) rotate(134.67)"/>
<ellipse cx="0" cy="0" rx="10.27" ry="0.89" fill="#de001c" transform="translate(289.20,212.36) rotate(134.67)"/>
<line x1="289.20" y1="193.60" x2="289.20" y2="231.88" stroke="#ff0000" stroke-opacity="0.42" stroke-width="0.5"/>
<line x1="269.90" y1="212.36" x2="307.75" y2="212.36" stroke="#ff0000" stroke-opacity="0.42" stroke-width="0.5"/>
<line x1="289.51" y1="193.60" x2="289.51" y2="231.88" stroke="#0000ff" stroke-opacity="0.48" stroke-width="0.5"/>
<line x1="269.90" y1="212.05" x2="307.75" y2="212.05" stroke="#0000ff" stroke-opacity="0.48" stroke-width="0.5"/>
</g>
<path d="M271.72,231.88v-1.25M271.72,193.60v1.25M280.27,231.88v-1.25M280.27,193.60v1.25M288.82,231.88v-1.25M288.82,193.60v1.25M297.38,231.88v-1.25M297.38,193.60v1.25M305.93,231.88v-1.25M305.93,193.60v1.25M269.90,228.82h1.25M307.75,228.82h-1.25M269.90,220.78h1.25M307.75,220.78h-1.25M269.90,212.74h1.25M307.75,212.74h-1.25M269.90,204.70h1.25M307.75,204.70h-1.25M269.90,196.66h1.25M307.75,196.66h-1.25" stroke="#444" stroke-width="0.38" fill="none"/>
<rect x="269.90" y="193.60" width="37.85" height="38.28" fill="none" stroke="#1a1a1a" stroke-opacity="0.31" stroke-width="0.6"/>
<clipPath id="c5_5"><rect x="307.75" y="193.60" width="37.85" height="38.28"/></clipPath>
<g clip-path="url(#c5_5)">
<line x1="327.05" y1="193.60" x2="327.05" y2="231.88" stroke="#ff0000" stroke-opacity="0.42" stroke-width="0.5"/>
<line x1="322.28" y1="193.60" x2="322.28" y2="231.88" stroke="#ff0000" stroke-opacity="0.27" stroke-width="0.5"/>
<line x1="331.82" y1="193.60" x2="331.82" y2="231.88" stroke="#ff0000" stroke-opacity="0.27" stroke-width="0.5"/>
<line x1="327.36" y1="193.60" x2="327.36" y2="231.88" stroke="#0000ff" stroke-opacity="0.42" stroke-width="0.5"/>
<line x1="322.51" y1="193.60" x2="322.51" y2="231.88" stroke="#0000ff" stroke-opacity="0.27" stroke-width="0.5"/>
<line x1="332.20" y1="193.60" x2="332.20" y2="231.88" stroke="#0000ff" stroke-opacity="0.27" stroke-width="0.5"/>
<polyline points="307.75,231.28 308.23,231.27 308.71,231.27 309.19,231.27 309.67,231.26 310.15,231.25 310.62,231.23 311.10,231.21 311.58,231.18 312.06,231.14 312.54,231.08 313.02,230.99 313.50,230.89 313.98,230.74 314.46,230.55 314.94,230.31 315.42,230.00 315.89,229.61 316.37,229.13 316.85,228.54 317.33,227.82 317.81,226.96 318.29,225.95 318.77,224.78 319.25,223.44 319.73,221.92 320.21,220.24 320.69,218.40 321.17,216.42 321.64,214.33 322.12,212.15 322.60,209.94 323.08,207.73 323.56,205.59 324.04,203.56 324.52,201.71 325.00,200.08 325.48,198.73 325.96,197.70 326.44,197.02 326.91,196.72 327.39,196.80 327.87,197.26 328.35,198.09 328.83,199.26 329.31,200.73 329.79,202.46 330.27,204.40 330.75,206.48 331.23,208.65 331.71,210.87 332.18,213.07 332.66,215.22 333.14,217.27 333.62,219.19 334.10,220.97 334.58,222.58 335.06,224.02 335.54,225.29 336.02,226.40 336.50,227.34 336.98,228.14 337.46,228.80 337.93,229.35 338.41,229.79 338.89,230.14 339.37,230.42 339.85,230.64 340.33,230.81 340.81,230.94 341.29,231.03 341.77,231.10 342.25,231.15 342.73,231.19 343.20,231.22 343.68,231.24 344.16,231.25 344.64,231.26 345.12,231.27 345.60,231.27" fill="none" stroke="#ff0000" stroke-opacity="0.55" stroke-width="0.5"/>
<polyline points="307.75,231.28 308.23,231.27 308.71,231.27 309.19,231.27 309.67,231.26 310.15,231.25 310.62,231.23 311.10,231.21 311.58,231.18 312.06,231.14 312.54,231.09 313.02,231.01 313.50,230.91 313.98,230.77 314.46,230.60 314.94,230.37 315.42,230.09 315.89,229.72 316.37,229.27 316.85,228.72 317.33,228.05 317.81,227.25 318.29,226.31 318.77,225.21 319.25,223.95 319.73,222.52 320.21,220.93 320.69,219.18 321.17,217.29 321.64,215.27 322.12,213.16 322.60,210.99 323.08,208.81 323.56,206.67 324.04,204.61 324.52,202.68 325.00,200.95 325.48,199.47 325.96,198.26 326.44,197.39 326.91,196.86 327.39,196.70 327.87,196.92 328.35,197.50 328.83,198.43 329.31,199.68 329.79,201.21 330.27,202.97 330.75,204.92 331.23,207.00 331.71,209.15 332.18,211.34 332.66,213.50 333.14,215.59 333.62,217.59 334.10,219.46 334.58,221.19 335.06,222.76 335.54,224.16 336.02,225.39 336.50,226.47 336.98,227.39 337.46,228.17 337.93,228.81 338.41,229.35 338.89,229.79 339.37,230.13 339.85,230.41 340.33,230.63 340.81,230.80 341.29,230.93 341.77,231.02 342.25,231.10 342.73,231.15 343.20,231.19 343.68,231.22 344.16,231.24 344.64,231.25 345.12,231.26 345.60,231.27" fill="none" stroke="#0000ff" stroke-opacity="0.55" stroke-width="0.5"/>
</g>
<path d="M309.72,231.88v-1.25M309.72,193.60v1.25M318.20,231.88v-1.25M318.20,193.60v1.25M326.68,231.88v-1.25M326.68,193.60v1.25M335.15,231.88v-1.25M335.15,193.60v1.25M343.63,231.88v-1.25M343.63,193.60v1.25" stroke="#444" stroke-width="0.38" fill="none"/>
<rect x="307.75" y="193.60" width="37.85" height="38.28" fill="none" stroke="#1a1a1a" stroke-opacity="0.31" stroke-width="0.6"/>
<clipPath id="c6_0"><rect x="118.50" y="231.88" width="37.85" height="38.28"/></clipPath>
<g clip-path="url(#c6_0)">
<ellipse cx="0" cy="0" rx="11.86" ry="11.72" fill="#8c8cff" transform="translate(138.48,250.48) rotate(90.00)"/>
<ellipse cx="0" cy="0" rx="7.45" ry="7.36" fill="#0000ff" transform="translate(138.48,250.48) rotate(90.00)"/>
<ellipse cx="0" cy="0" rx="11.67" ry="11.17" fill="rgba(250,157,160,0.92)" transform="translate(136.29,250.64) rotate(90.00)"/>
<ellipse cx="0" cy="0" rx="7.33" ry="7.02" fill="#de001c" transform="translate(136.29,250.64) rotate(90.00)"/>
<line x1="136.29" y1="231.88" x2="136.29" y2="270.16" stroke="#ff0000" stroke-opacity="0.42" stroke-width="0.5"/>
<line x1="118.50" y1="250.64" x2="156.35" y2="250.64" stroke="#ff0000" stroke-opacity="0.42" stroke-width="0.5"/>
<line x1="138.48" y1="231.88" x2="138.48" y2="270.16" stroke="#0000ff" stroke-opacity="0.48" stroke-width="0.5"/>
<line x1="118.50" y1="250.48" x2="156.35" y2="250.48" stroke="#0000ff" stroke-opacity="0.48" stroke-width="0.5"/>
</g>
<path d="M126.18,270.16v-1.25M126.18,231.88v1.25M138.03,270.16v-1.25M138.03,231.88v1.25M149.88,270.16v-1.25M149.88,231.88v1.25M118.50,262.12h1.25M156.35,262.12h-1.25M118.50,251.02h1.25M156.35,251.02h-1.25M118.50,239.92h1.25M156.35,239.92h-1.25" stroke="#444" stroke-width="0.38" fill="none"/>
<rect x="118.50" y="231.88" width="37.85" height="38.28" fill="none" stroke="#1a1a1a" stroke-opacity="0.31" stroke-width="0.6"/>
<clipPath id="c6_1"><rect x="156.35" y="231.88" width="37.85" height="38.28"/></clipPath>
<g clip-path="url(#c6_1)">
<ellipse cx="0" cy="0" rx="11.86" ry="10.63" fill="#8c8cff" transform="translate(173.00,250.48) rotate(90.00)"/>
<ellipse cx="0" cy="0" rx="7.45" ry="6.67" fill="#0000ff" transform="translate(173.00,250.48) rotate(90.00)"/>
<ellipse cx="0" cy="0" rx="11.67" ry="10.17" fill="rgba(250,157,160,0.92)" transform="translate(178.68,250.64) rotate(90.00)"/>
<ellipse cx="0" cy="0" rx="7.33" ry="6.39" fill="#de001c" transform="translate(178.68,250.64) rotate(90.00)"/>
<line x1="178.68" y1="231.88" x2="178.68" y2="270.16" stroke="#ff0000" stroke-opacity="0.42" stroke-width="0.5"/>
<line x1="156.35" y1="250.64" x2="194.20" y2="250.64" stroke="#ff0000" stroke-opacity="0.42" stroke-width="0.5"/>
<line x1="173.00" y1="231.88" x2="173.00" y2="270.16" stroke="#0000ff" stroke-opacity="0.48" stroke-width="0.5"/>
<line x1="156.35" y1="250.48" x2="194.20" y2="250.48" stroke="#0000ff" stroke-opacity="0.48" stroke-width="0.5"/>
</g>
<path d="M161.19,270.16v-1.25M161.19,231.88v1.25M173.12,270.16v-1.25M173.12,231.88v1.25M185.04,270.16v-1.25M185.04,231.88v1.25M156.35,262.12h1.25M194.20,262.12h-1.25M156.35,251.02h1.25M194.20,251.02h-1.25M156.35,239.92h1.25M194.20,239.92h-1.25" stroke="#444" stroke-width="0.38" fill="none"/>
<rect x="156.35" y="231.88" width="37.85" height="38.28" fill="none" stroke="#1a1a1a" stroke-opacity="0.31" stroke-width="0.6"/>
<clipPath id="c6_2"><rect x="194.20" y="231.88" width="37.85" height="38.28"/></clipPath>
<g clip-path="url(#c6_2)">
<ellipse cx="0" cy="0" rx="15.73" ry="5.53" fill="#8c8cff" transform="translate(213.88,250.48) rotate(45.41)"/>
<ellipse cx="0" cy="0" rx="9.88" ry="3.47" fill="#0000ff" transform="translate(213.88,250.48) rotate(45.41)"/>
<ellipse cx="0" cy="0" rx="15.53" ry="5.32" fill="rgba(250,157,160,0.92)" transform="translate(214.26,250.64) rotate(45.41)"/>
<ellipse cx="0" cy="0" rx="9.75" ry="3.34" fill="#de001c" transform="translate(214.26,250.64) rotate(45.41)"/>
<line x1="214.26" y1="231.88" x2="214.26" y2="270.16" stroke="#ff0000" stroke-opacity="0.42" stroke-width="0.5"/>
<line x1="194.20" y1="250.64" x2="232.05" y2="250.64" stroke="#ff0000" stroke-opacity="0.42" stroke-width="0.5"/>
<line x1="213.88" y1="231.88" x2="213.88" y2="270.16" stroke="#0000ff" stroke-opacity="0.48" stroke-width="0.5"/>
<line x1="194.20" y1="250.48" x2="232.05" y2="250.48" stroke="#0000ff" stroke-opacity="0.48" stroke-width="0.5"/>
</g>
<path d="M197.61,270.16v-1.25M197.61,231.88v1.25M213.12,270.16v-1.25M213.12,231.88v1.25M228.64,270.16v-1.25M228.64,231.88v1.25M194.20,262.12h1.25M232.05,262.12h-1.25M194.20,251.02h1.25M232.05,251.02h-1.25M194.20,239.92h1.25M232.05,239.92h-1.25" stroke="#444" stroke-width="0.38" fill="none"/>
<rect x="194.20" y="231.88" width="37.85" height="38.28" fill="none" stroke="#1a1a1a" stroke-opacity="0.31" stroke-width="0.6"/>
<clipPath id="c6_3"><rect x="232.05" y="231.88" width="37.85" height="38.28"/></clipPath>
<g clip-path="url(#c6_3)">
<ellipse cx="0" cy="0" rx="15.73" ry="5.53" fill="#8c8cff" transform="translate(251.43,250.48) rotate(45.41)"/>
<ellipse cx="0" cy="0" rx="9.88" ry="3.47" fill="#0000ff" transform="translate(251.43,250.48) rotate(45.41)"/>
<ellipse cx="0" cy="0" rx="15.53" ry="5.32" fill="rgba(250,157,160,0.92)" transform="translate(251.77,250.64) rotate(45.41)"/>
<ellipse cx="0" cy="0" rx="9.75" ry="3.34" fill="#de001c" transform="translate(251.77,250.64) rotate(45.41)"/>
<line x1="251.77" y1="231.88" x2="251.77" y2="270.16" stroke="#ff0000" stroke-opacity="0.42" stroke-width="0.5"/>
<line x1="232.05" y1="250.64" x2="269.90" y2="250.64" stroke="#ff0000" stroke-opacity="0.42" stroke-width="0.5"/>
<line x1="251.43" y1="231.88" x2="251.43" y2="270.16" stroke="#0000ff" stroke-opacity="0.48" stroke-width="0.5"/>
<line x1="232.05" y1="250.48" x2="269.90" y2="250.48" stroke="#0000ff" stroke-opacity="0.48" stroke-width="0.5"/>
</g>
<path d="M235.46,270.16v-1.25M235.46,231.88v1.25M249.46,270.16v-1.25M249.46,231.88v1.25M263.47,270.16v-1.25M263.47,231.88v1.25M232.05,262.12h1.25M269.90,262.12h-1.25M232.05,251.02h1.25M269.90,251.02h-1.25M232.05,239.92h1.25M269.90,239.92h-1.25" stroke="#444" stroke-width="0.38" fill="none"/>
<rect x="232.05" y="231.88" width="37.85" height="38.28" fill="none" stroke="#1a1a1a" stroke-opacity="0.31" stroke-width="0.6"/>
<clipPath id="c6_4"><rect x="269.90" y="231.88" width="37.85" height="38.28"/></clipPath>
<g clip-path="url(#c6_4)">
<ellipse cx="0" cy="0" rx="15.73" ry="5.53" fill="#8c8cff" transform="translate(289.51,250.48) rotate(45.41)"/>
<ellipse cx="0" cy="0" rx="9.88" ry="3.47" fill="#0000ff" transform="translate(289.51,250.48) rotate(45.41)"/>
<ellipse cx="0" cy="0" rx="15.53" ry="5.32" fill="rgba(250,157,160,0.92)" transform="translate(289.20,250.64) rotate(45.41)"/>
<ellipse cx="0" cy="0" rx="9.75" ry="3.34" fill="#de001c" transform="translate(289.20,250.64) rotate(45.41)"/>
<line x1="289.20" y1="231.88" x2="289.20" y2="270.16" stroke="#ff0000" stroke-opacity="0.42" stroke-width="0.5"/>
<line x1="269.90" y1="250.64" x2="307.75" y2="250.64" stroke="#ff0000" stroke-opacity="0.42" stroke-width="0.5"/>
<line x1="289.51" y1="231.88" x2="289.51" y2="270.16" stroke="#0000ff" stroke-opacity="0.48" stroke-width="0.5"/>
<line x1="269.90" y1="250.48" x2="307.75" y2="250.48" stroke="#0000ff" stroke-opacity="0.48" stroke-width="0.5"/>
</g>
<path d="M271.72,270.16v-1.25M271.72,231.88v1.25M280.27,270.16v-1.25M280.27,231.88v1.25M288.82,270.16v-1.25M288.82,231.88v1.25M297.38,270.16v-1.25M297.38,231.88v1.25M305.93,270.16v-1.25M305.93,231.88v1.25M269.90,262.12h1.25M307.75,262.12h-1.25M269.90,251.02h1.25M307.75,251.02h-1.25M269.90,239.92h1.25M307.75,239.92h-1.25" stroke="#444" stroke-width="0.38" fill="none"/>
<rect x="269.90" y="231.88" width="37.85" height="38.28" fill="none" stroke="#1a1a1a" stroke-opacity="0.31" stroke-width="0.6"/>
<clipPath id="c6_5"><rect x="307.75" y="231.88" width="37.85" height="38.28"/></clipPath>
<g clip-path="url(#c6_5)">
<ellipse cx="0" cy="0" rx="15.73" ry="5.53" fill="#8c8cff" transform="translate(327.36,250.48) rotate(45.41)"/>
<ellipse cx="0" cy="0" rx="9.88" ry="3.47" fill="#0000ff" transform="translate(327.36,250.48) rotate(45.41)"/>
<ellipse cx="0" cy="0" rx="15.53" ry="5.32" fill="rgba(250,157,160,0.92)" transform="translate(327.05,250.64) rotate(45.41)"/>
<ellipse cx="0" cy="0" rx="9.75" ry="3.34" fill="#de001c" transform="translate(327.05,250.64) rotate(45.41)"/>
<line x1="327.05" y1="231.88" x2="327.05" y2="270.16" stroke="#ff0000" stroke-opacity="0.42" stroke-width="0.5"/>
<line x1="307.75" y1="250.64" x2="345.60" y2="250.64" stroke="#ff0000" stroke-opacity="0.42" stroke-width="0.5"/>
<line x1="327.36" y1="231.88" x2="327.36" y2="270.16" stroke="#0000ff" stroke-opacity="0.48" stroke-width="0.5"/>
<line x1="307.75" y1="250.48" x2="345.60" y2="250.48" stroke="#0000ff" stroke-opacity="0.48" stroke-width="0.5"/>
</g>
<path d="M309.72,270.16v-1.25M309.72,231.88v1.25M318.20,270.16v-1.25M318.20,231.88v1.25M326.68,270.16v-1.25M326.68,231.88v1.25M335.15,270.16v-1.25M335.15,231.88v1.25M343.63,270.16v-1.25M343.63,231.88v1.25M307.75,262.12h1.25M345.60,262.12h-1.25M307.75,251.02h1.25M345.60,251.02h-1.25M307.75,239.92h1.25M345.60,239.92h-1.25" stroke="#444" stroke-width="0.38" fill="none"/>
<rect x="307.75" y="231.88" width="37.85" height="38.28" fill="none" stroke="#1a1a1a" stroke-opacity="0.31" stroke-width="0.6"/>
<clipPath id="c6_6"><rect x="345.60" y="231.88" width="37.85" height="38.28"/></clipPath>
<g clip-path="url(#c6_6)">
<line x1="364.90" y1="231.88" x2="364.90" y2="270.16" stroke="#ff0000" stroke-opacity="0.42" stroke-width="0.5"/>
<line x1="360.37" y1="231.88" x2="360.37" y2="270.16" stroke="#ff0000" stroke-opacity="0.27" stroke-width="0.5"/>
<line x1="369.43" y1="231.88" x2="369.43" y2="270.16" stroke="#ff0000" stroke-opacity="0.27" stroke-width="0.5"/>
<line x1="365.05" y1="231.88" x2="365.05" y2="270.16" stroke="#0000ff" stroke-opacity="0.42" stroke-width="0.5"/>
<line x1="360.45" y1="231.88" x2="360.45" y2="270.16" stroke="#0000ff" stroke-opacity="0.27" stroke-width="0.5"/>
<line x1="369.66" y1="231.88" x2="369.66" y2="270.16" stroke="#0000ff" stroke-opacity="0.27" stroke-width="0.5"/>
<polyline points="345.60,269.56 346.08,269.56 346.56,269.55 347.04,269.55 347.52,269.54 348.00,269.54 348.47,269.52 348.95,269.51 349.43,269.48 349.91,269.45 350.39,269.40 350.87,269.33 351.35,269.24 351.83,269.11 352.31,268.95 352.79,268.73 353.27,268.45 353.74,268.10 354.22,267.66 354.70,267.10 355.18,266.43 355.66,265.62 356.14,264.65 356.62,263.52 357.10,262.21 357.58,260.72 358.06,259.06 358.54,257.22 359.02,255.24 359.49,253.12 359.97,250.92 360.45,248.66 360.93,246.40 361.41,244.20 361.89,242.11 362.37,240.19 362.85,238.50 363.33,237.10 363.81,236.02 364.29,235.31 364.76,235.00 365.24,235.08 365.72,235.56 366.20,236.43 366.68,237.65 367.16,239.18 367.64,240.97 368.12,242.97 368.60,245.11 369.08,247.35 369.56,249.61 370.03,251.85 370.51,254.02 370.99,256.09 371.47,258.01 371.95,259.78 372.43,261.37 372.91,262.78 373.39,264.01 373.87,265.07 374.35,265.98 374.83,266.73 375.31,267.35 375.78,267.85 376.26,268.26 376.74,268.58 377.22,268.83 377.70,269.02 378.18,269.17 378.66,269.28 379.14,269.36 379.62,269.42 380.10,269.46 380.58,269.49 381.05,269.51 381.53,269.53 382.01,269.54 382.49,269.55 382.97,269.55 383.45,269.55" fill="none" stroke="#ff0000" stroke-opacity="0.55" stroke-width="0.5"/>
<polyline points="345.60,269.56 346.08,269.56 346.56,269.55 347.04,269.55 347.52,269.54 348.00,269.53 348.47,269.52 348.95,269.50 349.43,269.48 349.91,269.44 350.39,269.39 350.87,269.32 351.35,269.22 351.83,269.09 352.31,268.93 352.79,268.71 353.27,268.43 353.74,268.08 354.22,267.64 354.70,267.09 355.18,266.42 355.66,265.62 356.14,264.68 356.62,263.57 357.10,262.29 357.58,260.83 358.06,259.21 358.54,257.42 359.02,255.48 359.49,253.41 359.97,251.25 360.45,249.04 360.93,246.81 361.41,244.63 361.89,242.54 362.37,240.61 362.85,238.89 363.33,237.43 363.81,236.28 364.29,235.48 364.76,235.05 365.24,235.01 365.72,235.36 366.20,236.08 366.68,237.16 367.16,238.56 367.64,240.23 368.12,242.12 368.60,244.17 369.08,246.34 369.56,248.56 370.03,250.79 370.51,252.96 370.99,255.05 371.47,257.02 371.95,258.84 372.43,260.50 372.91,261.99 373.39,263.31 373.87,264.45 374.35,265.44 374.83,266.27 375.31,266.96 375.78,267.53 376.26,267.99 376.74,268.36 377.22,268.66 377.70,268.89 378.18,269.06 378.66,269.20 379.14,269.30 379.62,269.37 380.10,269.43 380.58,269.47 381.05,269.50 381.53,269.52 382.01,269.53 382.49,269.54 382.97,269.55 383.45,269.55" fill="none" stroke="#0000ff" stroke-opacity="0.55" stroke-width="0.5"/>
</g>
<path d="M353.93,270.16v-1.25M353.93,231.88v1.25M363.77,270.16v-1.25M363.77,231.88v1.25M373.61,270.16v-1.25M373.61,231.88v1.25" stroke="#444" stroke-width="0.38" fill="none"/>
<rect x="345.60" y="231.88" width="37.85" height="38.28" fill="none" stroke="#1a1a1a" stroke-opacity="0.31" stroke-width="0.6"/>
<clipPath id="c7_0"><rect x="118.50" y="270.16" width="37.85" height="38.28"/></clipPath>
<g clip-path="url(#c7_0)">
<ellipse cx="0" cy="0" rx="11.86" ry="11.72" fill="#8c8cff" transform="translate(138.48,289.53) rotate(90.00)"/>
<ellipse cx="0" cy="0" rx="7.45" ry="7.36" fill="#0000ff" transform="translate(138.48,289.53) rotate(90.00)"/>
<ellipse cx="0" cy="0" rx="11.67" ry="11.17" fill="rgba(250,157,160,0.92)" transform="translate(136.29,289.72) rotate(90.00)"/>
<ellipse cx="0" cy="0" rx="7.33" ry="7.02" fill="#de001c" transform="translate(136.29,289.72) rotate(90.00)"/>
<line x1="136.29" y1="270.16" x2="136.29" y2="308.44" stroke="#ff0000" stroke-opacity="0.42" stroke-width="0.5"/>
<line x1="118.50" y1="289.72" x2="156.35" y2="289.72" stroke="#ff0000" stroke-opacity="0.42" stroke-width="0.5"/>
<line x1="138.48" y1="270.16" x2="138.48" y2="308.44" stroke="#0000ff" stroke-opacity="0.48" stroke-width="0.5"/>
<line x1="118.50" y1="289.53" x2="156.35" y2="289.53" stroke="#0000ff" stroke-opacity="0.48" stroke-width="0.5"/>
</g>
<path d="M126.18,308.44v-1.25M126.18,270.16v1.25M138.03,308.44v-1.25M138.03,270.16v1.25M149.88,308.44v-1.25M149.88,270.16v1.25M118.50,301.17h1.25M156.35,301.17h-1.25M118.50,289.30h1.25M156.35,289.30h-1.25M118.50,277.43h1.25M156.35,277.43h-1.25" stroke="#444" stroke-width="0.38" fill="none"/>
<rect x="118.50" y="270.16" width="37.85" height="38.28" fill="none" stroke="#1a1a1a" stroke-opacity="0.31" stroke-width="0.6"/>
<clipPath id="c7_1"><rect x="156.35" y="270.16" width="37.85" height="38.28"/></clipPath>
<g clip-path="url(#c7_1)">
<ellipse cx="0" cy="0" rx="11.86" ry="10.63" fill="#8c8cff" transform="translate(173.00,289.53) rotate(90.00)"/>
<ellipse cx="0" cy="0" rx="7.45" ry="6.67" fill="#0000ff" transform="translate(173.00,289.53) rotate(90.00)"/>
<ellipse cx="0" cy="0" rx="11.67" ry="10.17" fill="rgba(250,157,160,0.92)" transform="translate(178.68,289.72) rotate(90.00)"/>
<ellipse cx="0" cy="0" rx="7.33" ry="6.39" fill="#de001c" transform="translate(178.68,289.72) rotate(90.00)"/>
<line x1="178.68" y1="270.16" x2="178.68" y2="308.44" stroke="#ff0000" stroke-opacity="0.42" stroke-width="0.5"/>
<line x1="156.35" y1="289.72" x2="194.20" y2="289.72" stroke="#ff0000" stroke-opacity="0.42" stroke-width="0.5"/>
<line x1="173.00" y1="270.16" x2="173.00" y2="308.44" stroke="#0000ff" stroke-opacity="0.48" stroke-width="0.5"/>
<line x1="156.35" y1="289.53" x2="194.20" y2="289.53" stroke="#0000ff" stroke-opacity="0.48" stroke-width="0.5"/>
</g>
<path d="M161.19,308.44v-1.25M161.19,270.16v1.25M173.12,308.44v-1.25M173.12,270.16v1.25M185.04,308.44v-1.25M185.04,270.16v1.25M156.35,301.17h1.25M194.20,301.17h-1.25M156.35,289.30h1.25M194.20,289.30h-1.25M156.35,277.43h1.25M194.20,277.43h-1.25" stroke="#444" stroke-width="0.38" fill="none"/>
<rect x="156.35" y="270.16" width="37.85" height="38.28" fill="none" stroke="#1a1a1a" stroke-opacity="0.31" stroke-width="0.6"/>
<clipPath id="c7_2"><rect x="194.20" y="270.16" width="37.85" height="38.28"/></clipPath>
<g clip-path="url(#c7_2)">
<ellipse cx="0" cy="0" rx="15.24" ry="6.77" fill="#8c8cff" transform="translate(213.88,289.53) rotate(134.52)"/>
<ellipse cx="0" cy="0" rx="9.57" ry="4.25" fill="#0000ff" transform="translate(213.88,289.53) rotate(134.52)"/>
<ellipse cx="0" cy="0" rx="15.09" ry="6.46" fill="rgba(250,157,160,0.92)" transform="translate(214.26,289.72) rotate(134.53)"/>
<ellipse cx="0" cy="0" rx="9.48" ry="4.06" fill="#de001c" transform="translate(214.26,289.72) rotate(134.53)"/>
<line x1="214.26" y1="270.16" x2="214.26" y2="308.44" stroke="#ff0000" stroke-opacity="0.42" stroke-width="0.5"/>
<line x1="194.20" y1="289.72" x2="232.05" y2="289.72" stroke="#ff0000" stroke-opacity="0.42" stroke-width="0.5"/>
<line x1="213.88" y1="270.16" x2="213.88" y2="308.44" stroke="#0000ff" stroke-opacity="0.48" stroke-width="0.5"/>
<line x1="194.20" y1="289.53" x2="232.05" y2="289.53" stroke="#0000ff" stroke-opacity="0.48" stroke-width="0.5"/>
</g>
<path d="M197.61,308.44v-1.25M197.61,270.16v1.25M213.12,308.44v-1.25M213.12,270.16v1.25M228.64,308.44v-1.25M228.64,270.16v1.25M194.20,301.17h1.25M232.05,301.17h-1.25M194.20,289.30h1.25M232.05,289.30h-1.25M194.20,277.43h1.25M232.05,277.43h-1.25" stroke="#444" stroke-width="0.38" fill="none"/>
<rect x="194.20" y="270.16" width="37.85" height="38.28" fill="none" stroke="#1a1a1a" stroke-opacity="0.31" stroke-width="0.6"/>
<clipPath id="c7_3"><rect x="232.05" y="270.16" width="37.85" height="38.28"/></clipPath>
<g clip-path="url(#c7_3)">
<ellipse cx="0" cy="0" rx="15.24" ry="6.77" fill="#8c8cff" transform="translate(251.43,289.53) rotate(134.52)"/>
<ellipse cx="0" cy="0" rx="9.57" ry="4.25" fill="#0000ff" transform="translate(251.43,289.53) rotate(134.52)"/>
<ellipse cx="0" cy="0" rx="15.09" ry="6.46" fill="rgba(250,157,160,0.92)" transform="translate(251.77,289.72) rotate(134.53)"/>
<ellipse cx="0" cy="0" rx="9.48" ry="4.06" fill="#de001c" transform="translate(251.77,289.72) rotate(134.53)"/>
<line x1="251.77" y1="270.16" x2="251.77" y2="308.44" stroke="#ff0000" stroke-opacity="0.42" stroke-width="0.5"/>
<line x1="232.05" y1="289.72" x2="269.90" y2="289.72" stroke="#ff0000" stroke-opacity="0.42" stroke-width="0.5"/>
<line x1="251.43" y1="270.16" x2="251.43" y2="308.44" stroke="#0000ff" stroke-opacity="0.48" stroke-width="0.5"/>
<line x1="232.05" y1="289.53" x2="269.90" y2="289.53" stroke="#0000ff" stroke-opacity="0.48" stroke-width="0.5"/>
</g>
<path d="M235.46,308.44v-1.25M235.46,270.16v1.25M249.46,308.44v-1.25M249.46,270.16v1.25M263.47,308.44v-1.25M263.47,270.16v1.25M232.05,301.17h1.25M269.90,301.17h-1.25M232.05,289.30h1.25M269.90,289.30h-1.25M232.05,277.43h1.25M269.90,277.43h-1.25" stroke="#444" stroke-width="0.38" fill="none"/>
<rect x="232.05" y="270.16" width="37.85" height="38.28" fill="none" stroke="#1a1a1a" stroke-opacity="0.31" stroke-width="0.6"/>
<clipPath id="c7_4"><rect x="269.90" y="270.16" width="37.85" height="38.28"/></clipPath>
<g clip-path="url(#c7_4)">
<ellipse cx="0" cy="0" rx="15.24" ry="6.77" fill="#8c8cff" transform="translate(289.51,289.53) rotate(134.52)"/>
<ellipse cx="0" cy="0" rx="9.57" ry="4.25" fill="#0000ff" transform="translate(289.51,289.53) rotate(134.52)"/>
<ellipse cx="0" cy="0" rx="15.09" ry="6.46" fill="rgba(250,157,160,0.92)" transform="translate(289.20,289.72) rotate(134.53)"/>
<ellipse cx="0" cy="0" rx="9.48" ry="4.06" fill="#de001c" transform="translate(289.20,289.72) rotate(134.53)"/>
<line x1="289.20" y1="270.16" x2="289.20" y2="308.44" stroke="#ff0000" stroke-opacity="0.42" stroke-width="0.5"/>
<line x1="269.90" y1="289.72" x2="307.75" y2="289.72" stroke="#ff0000" stroke-opacity="0.42" stroke-width="0.5"/>
<line x1="289.51" y1="270.16" x2="289.51" y2="308.44" stroke="#0000ff" stroke-opacity="0.48" stroke-width="0.5"/>
<line x1="269.90" y1="289.53" x2="307.75" y2="289.53" stroke="#0000ff" stroke-opacity="0.48" stroke-width="0.5"/>
</g>
<path d="M271.72,308.44v-1.25M271.72,270.16v1.25M280.27,308.44v-1.25M280.27,270.16v1.25M288.82,308.44v-1.25M288.82,270.16v1.25M297.38,308.44v-1.25M297.38,270.16v1.25M305.93,308.44v-1.25M305.93,270.16v1.25M269.90,301.17h1.25M307.75,301.17h-1.25M269.90,289.30h1.25M307.75,289.30h-1.25M269.90,277.43h1.25M307.75,277.43h-1.25" stroke="#444" stroke-width="0.38" fill="none"/>
<rect x="269.90" y="270.16" width="37.85" height="38.28" fill="none" stroke="#1a1a1a" stroke-opacity="0.31" stroke-width="0.6"/>
<clipPath id="c7_5"><rect x="307.75" y="270.16" width="37.85" height="38.28"/></clipPath>
<g clip-path="url(#c7_5)">
<ellipse cx="0" cy="0" rx="15.24" ry="6.77" fill="#8c8cff" transform="translate(327.36,289.53) rotate(134.52)"/>
<ellipse cx="0" cy="0" rx="9.57" ry="4.25" fill="#0000ff" transform="translate(327.36,289.53) rotate(134.52)"/>
<ellipse cx="0" cy="0" rx="15.09" ry="6.46" fill="rgba(250,157,160,0.92)" transform="translate(327.05,289.72) rotate(134.53)"/>
<ellipse cx="0" cy="0" rx="9.48" ry="4.06" fill="#de001c" transform="translate(327.05,289.72) rotate(134.53)"/>
<line x1="327.05" y1="270.16" x2="327.05" y2="308.44" stroke="#ff0000" stroke-opacity="0.42" stroke-width="0.5"/>
<line x1="307.75" y1="289.72" x2="345.60" y2="289.72" stroke="#ff0000" stroke-opacity="0.42" stroke-width="0.5"/>
<line x1="327.36" y1="270.16" x2="327.36" y2="308.44" stroke="#0000ff" stroke-opacity="0.48" stroke-width="0.5"/>
<line x1="307.75" y1="289.53" x2="345.60" y2="289.53" stroke="#0000ff" stroke-opacity="0.48" stroke-width="0.5"/>
</g>
<path d="M309.72,308.44v-1.25M309.72,270.16v1.25M318.20,308.44v-1.25M318.20,270.16v1.25M326.68,308.44v-1.25M326.68,270.16v1.25M335.15,308.44v-1.25M335.15,270.16v1.25M343.63,308.44v-1.25M343.63,270.16v1.25M307.75,301.17h1.25M345.60,301.17h-1.25M307.75,289.30h1.25M345.60,289.30h-1.25M307.75,277.43h1.25M345.60,277.43h-1.25" stroke="#444" stroke-width="0.38" fill="none"/>
<rect x="307.75" y="270.16" width="37.85" height="38.28" fill="none" stroke="#1a1a1a" stroke-opacity="0.31" stroke-width="0.6"/>
<clipPath id="c7_6"><rect x="345.60" y="270.16" width="37.85" height="38.28"/></clipPath>
<g clip-path="url(#c7_6)">
<ellipse cx="0" cy="0" rx="16.65" ry="0.83" fill="#8c8cff" transform="translate(365.05,289.53) rotate(45.33)"/>
<ellipse cx="0" cy="0" rx="10.46" ry="0.52" fill="#0000ff" transform="translate(365.05,289.53) rotate(45.33)"/>
<ellipse cx="0" cy="0" rx="16.40" ry="0.78" fill="rgba(250,157,160,0.92)" transform="translate(364.90,289.72) rotate(45.33)"/>
<ellipse cx="0" cy="0" rx="10.30" ry="0.49" fill="#de001c" transform="translate(364.90,289.72) rotate(45.33)"/>
<line x1="364.90" y1="270.16" x2="364.90" y2="308.44" stroke="#ff0000" stroke-opacity="0.42" stroke-width="0.5"/>
<line x1="345.60" y1="289.72" x2="383.45" y2="289.72" stroke="#ff0000" stroke-opacity="0.42" stroke-width="0.5"/>
<line x1="365.05" y1="270.16" x2="365.05" y2="308.44" stroke="#0000ff" stroke-opacity="0.48" stroke-width="0.5"/>
<line x1="345.60" y1="289.53" x2="383.45" y2="289.53" stroke="#0000ff" stroke-opacity="0.48" stroke-width="0.5"/>
</g>
<path d="M353.93,308.44v-1.25M353.93,270.16v1.25M363.77,308.44v-1.25M363.77,270.16v1.25M373.61,308.44v-1.25M373.61,270.16v1.25M345.60,301.17h1.25M383.45,301.17h-1.25M345.60,289.30h1.25M383.45,289.30h-1.25M345.60,277.43h1.25M383.45,277.43h-1.25" stroke="#444" stroke-width="0.38" fill="none"/>
<rect x="345.60" y="270.16" width="37.85" height="38.28" fill="none" stroke="#1a1a1a" stroke-opacity="0.31" stroke-width="0.6"/>
<clipPath id="c7_7"><rect x="383.45" y="270.16" width="37.85" height="38.28"/></clipPath>
<g clip-path="url(#c7_7)">
<line x1="402.41" y1="270.16" x2="402.41" y2="308.44" stroke="#ff0000" stroke-opacity="0.42" stroke-width="0.5"/>
<line x1="397.64" y1="270.16" x2="397.64" y2="308.44" stroke="#ff0000" stroke-opacity="0.27" stroke-width="0.5"/>
<line x1="407.18" y1="270.16" x2="407.18" y2="308.44" stroke="#ff0000" stroke-opacity="0.27" stroke-width="0.5"/>
<line x1="402.60" y1="270.16" x2="402.60" y2="308.44" stroke="#0000ff" stroke-opacity="0.42" stroke-width="0.5"/>
<line x1="397.76" y1="270.16" x2="397.76" y2="308.44" stroke="#0000ff" stroke-opacity="0.27" stroke-width="0.5"/>
<line x1="407.45" y1="270.16" x2="407.45" y2="308.44" stroke="#0000ff" stroke-opacity="0.27" stroke-width="0.5"/>
<polyline points="383.45,307.83 383.93,307.83 384.41,307.83 384.89,307.82 385.37,307.81 385.85,307.80 386.32,307.78 386.80,307.75 387.28,307.71 387.76,307.65 388.24,307.58 388.72,307.48 389.20,307.35 389.68,307.17 390.16,306.95 390.64,306.66 391.12,306.30 391.59,305.84 392.07,305.28 392.55,304.60 393.03,303.79 393.51,302.82 393.99,301.70 394.47,300.40 394.95,298.94 395.43,297.30 395.91,295.51 396.39,293.56 396.87,291.50 397.34,289.34 397.82,287.14 398.30,284.93 398.78,282.76 399.26,280.69 399.74,278.78 400.22,277.09 400.70,275.65 401.18,274.52 401.66,273.74 402.14,273.32 402.61,273.29 403.09,273.65 403.57,274.37 404.05,275.45 404.53,276.84 405.01,278.50 405.49,280.38 405.97,282.42 406.45,284.58 406.93,286.79 407.41,289.00 407.88,291.16 408.36,293.25 408.84,295.21 409.32,297.03 409.80,298.69 410.28,300.18 410.76,301.50 411.24,302.65 411.72,303.64 412.20,304.48 412.68,305.18 413.16,305.76 413.63,306.23 414.11,306.61 414.59,306.91 415.07,307.14 415.55,307.32 416.03,307.46 416.51,307.57 416.99,307.64 417.47,307.70 417.95,307.74 418.43,307.77 418.90,307.79 419.38,307.81 419.86,307.82 420.34,307.83 420.82,307.83 421.30,307.83" fill="none" stroke="#ff0000" stroke-opacity="0.55" stroke-width="0.5"/>
<polyline points="383.45,307.83 383.93,307.83 384.41,307.83 384.89,307.82 385.37,307.81 385.85,307.79 386.32,307.77 386.80,307.74 387.28,307.70 387.76,307.65 388.24,307.57 388.72,307.47 389.20,307.34 389.68,307.17 390.16,306.95 390.64,306.66 391.12,306.30 391.59,305.86 392.07,305.31 392.55,304.65 393.03,303.86 393.51,302.92 393.99,301.83 394.47,300.58 394.95,299.16 395.43,297.58 395.91,295.84 396.39,293.95 396.87,291.94 397.34,289.83 397.82,287.67 398.30,285.49 398.78,283.34 399.26,281.27 399.74,279.34 400.22,277.60 400.70,276.10 401.18,274.88 401.66,273.98 402.14,273.44 402.61,273.26 403.09,273.46 403.57,274.02 404.05,274.93 404.53,276.17 405.01,277.68 405.49,279.44 405.97,281.38 406.45,283.45 406.93,285.60 407.41,287.78 407.88,289.94 408.36,292.05 408.84,294.05 409.32,295.93 409.80,297.66 410.28,299.24 410.76,300.65 411.24,301.89 411.72,302.98 412.20,303.90 412.68,304.69 413.16,305.34 413.63,305.88 414.11,306.32 414.59,306.68 415.07,306.96 415.55,307.18 416.03,307.35 416.51,307.48 416.99,307.58 417.47,307.65 417.95,307.71 418.43,307.75 418.90,307.77 419.38,307.80 419.86,307.81 420.34,307.82 420.82,307.83 421.30,307.83" fill="none" stroke="#0000ff" stroke-opacity="0.55" stroke-width="0.5"/>
</g>
<path d="M390.64,308.44v-1.25M390.64,270.16v1.25M402.38,308.44v-1.25M402.38,270.16v1.25M414.11,308.44v-1.25M414.11,270.16v1.25" stroke="#444" stroke-width="0.38" fill="none"/>
<rect x="383.45" y="270.16" width="37.85" height="38.28" fill="none" stroke="#1a1a1a" stroke-opacity="0.31" stroke-width="0.6"/>
<clipPath id="c8_0"><rect x="118.50" y="308.44" width="37.85" height="38.28"/></clipPath>
<g clip-path="url(#c8_0)">
<ellipse cx="0" cy="0" rx="11.95" ry="11.72" fill="#8c8cff" transform="translate(138.48,325.40) rotate(90.00)"/>
<ellipse cx="0" cy="0" rx="7.51" ry="7.36" fill="#0000ff" transform="translate(138.48,325.40) rotate(90.00)"/>
<ellipse cx="0" cy="0" rx="11.17" ry="11.02" fill="rgba(250,157,160,0.92)" transform="translate(136.29,326.36) rotate(0.00)"/>
<ellipse cx="0" cy="0" rx="7.02" ry="6.92" fill="#de001c" transform="translate(136.29,326.36) rotate(0.00)"/>
<line x1="136.29" y1="308.44" x2="136.29" y2="346.72" stroke="#ff0000" stroke-opacity="0.42" stroke-width="0.5"/>
<line x1="118.50" y1="326.36" x2="156.35" y2="326.36" stroke="#ff0000" stroke-opacity="0.42" stroke-width="0.5"/>
<line x1="138.48" y1="308.44" x2="138.48" y2="346.72" stroke="#0000ff" stroke-opacity="0.48" stroke-width="0.5"/>
<line x1="118.50" y1="325.40" x2="156.35" y2="325.40" stroke="#0000ff" stroke-opacity="0.48" stroke-width="0.5"/>
</g>
<path d="M126.18,346.72v-1.25M126.18,308.44v1.25M138.03,346.72v-1.25M138.03,308.44v1.25M149.88,346.72v-1.25M149.88,308.44v1.25M118.50,339.06h1.25M156.35,339.06h-1.25M118.50,327.58h1.25M156.35,327.58h-1.25M118.50,316.10h1.25M156.35,316.10h-1.25" stroke="#444" stroke-width="0.38" fill="none"/>
<rect x="118.50" y="308.44" width="37.85" height="38.28" fill="none" stroke="#1a1a1a" stroke-opacity="0.31" stroke-width="0.6"/>
<clipPath id="c8_1"><rect x="156.35" y="308.44" width="37.85" height="38.28"/></clipPath>
<g clip-path="url(#c8_1)">
<ellipse cx="0" cy="0" rx="11.95" ry="10.63" fill="#8c8cff" transform="translate(173.00,325.40) rotate(90.00)"/>
<ellipse cx="0" cy="0" rx="7.51" ry="6.67" fill="#0000ff" transform="translate(173.00,325.40) rotate(90.00)"/>
<ellipse cx="0" cy="0" rx="11.02" ry="10.17" fill="rgba(250,157,160,0.92)" transform="translate(178.68,326.36) rotate(90.00)"/>
<ellipse cx="0" cy="0" rx="6.92" ry="6.39" fill="#de001c" transform="translate(178.68,326.36) rotate(90.00)"/>
<line x1="178.68" y1="308.44" x2="178.68" y2="346.72" stroke="#ff0000" stroke-opacity="0.42" stroke-width="0.5"/>
<line x1="156.35" y1="326.36" x2="194.20" y2="326.36" stroke="#ff0000" stroke-opacity="0.42" stroke-width="0.5"/>
<line x1="173.00" y1="308.44" x2="173.00" y2="346.72" stroke="#0000ff" stroke-opacity="0.48" stroke-width="0.5"/>
<line x1="156.35" y1="325.40" x2="194.20" y2="325.40" stroke="#0000ff" stroke-opacity="0.48" stroke-width="0.5"/>
</g>
<path d="M161.19,346.72v-1.25M161.19,308.44v1.25M173.12,346.72v-1.25M173.12,308.44v1.25M185.04,346.72v-1.25M185.04,308.44v1.25M156.35,339.06h1.25M194.20,339.06h-1.25M156.35,327.58h1.25M194.20,327.58h-1.25M156.35,316.10h1.25M194.20,316.10h-1.25" stroke="#444" stroke-width="0.38" fill="none"/>
<rect x="156.35" y="308.44" width="37.85" height="38.28" fill="none" stroke="#1a1a1a" stroke-opacity="0.31" stroke-width="0.6"/>
<clipPath id="c8_2"><rect x="194.20" y="308.44" width="37.85" height="38.28"/></clipPath>
<g clip-path="url(#c8_2)">
<ellipse cx="0" cy="0" rx="14.74" ry="7.94" fill="#8c8cff" transform="translate(213.88,325.40) rotate(134.01)"/>
<ellipse cx="0" cy="0" rx="9.26" ry="4.99" fill="#0000ff" transform="translate(213.88,325.40) rotate(134.01)"/>
<ellipse cx="0" cy="0" rx="14.28" ry="7.13" fill="rgba(250,157,160,0.92)" transform="translate(214.26,326.36) rotate(137.19)"/>
<ellipse cx="0" cy="0" rx="8.97" ry="4.48" fill="#de001c" transform="translate(214.26,326.36) rotate(137.19)"/>
<line x1="214.26" y1="308.44" x2="214.26" y2="346.72" stroke="#ff0000" stroke-opacity="0.42" stroke-width="0.5"/>
<line x1="194.20" y1="326.36" x2="232.05" y2="326.36" stroke="#ff0000" stroke-opacity="0.42" stroke-width="0.5"/>
<line x1="213.88" y1="308.44" x2="213.88" y2="346.72" stroke="#0000ff" stroke-opacity="0.48" stroke-width="0.5"/>
<line x1="194.20" y1="325.40" x2="232.05" y2="325.40" stroke="#0000ff" stroke-opacity="0.48" stroke-width="0.5"/>
</g>
<path d="M197.61,346.72v-1.25M197.61,308.44v1.25M213.12,346.72v-1.25M213.12,308.44v1.25M228.64,346.72v-1.25M228.64,308.44v1.25M194.20,339.06h1.25M232.05,339.06h-1.25M194.20,327.58h1.25M232.05,327.58h-1.25M194.20,316.10h1.25M232.05,316.10h-1.25" stroke="#444" stroke-width="0.38" fill="none"/>
<rect x="194.20" y="308.44" width="37.85" height="38.28" fill="none" stroke="#1a1a1a" stroke-opacity="0.31" stroke-width="0.6"/>
<clipPath id="c8_3"><rect x="232.05" y="308.44" width="37.85" height="38.28"/></clipPath>
<g clip-path="url(#c8_3)">
<ellipse cx="0" cy="0" rx="14.74" ry="7.94" fill="#8c8cff" transform="translate(251.43,325.40) rotate(134.01)"/>
<ellipse cx="0" cy="0" rx="9.26" ry="4.99" fill="#0000ff" transform="translate(251.43,325.40) rotate(134.01)"/>
<ellipse cx="0" cy="0" rx="14.28" ry="7.13" fill="rgba(250,157,160,0.92)" transform="translate(251.77,326.36) rotate(137.19)"/>
<ellipse cx="0" cy="0" rx="8.97" ry="4.48" fill="#de001c" transform="translate(251.77,326.36) rotate(137.19)"/>
<line x1="251.77" y1="308.44" x2="251.77" y2="346.72" stroke="#ff0000" stroke-opacity="0.42" stroke-width="0.5"/>
<line x1="232.05" y1="326.36" x2="269.90" y2="326.36" stroke="#ff0000" stroke-opacity="0.42" stroke-width="0.5"/>
<line x1="251.43" y1="308.44" x2="251.43" y2="346.72" stroke="#0000ff" stroke-opacity="0.48" stroke-width="0.5"/>
<line x1="232.05" y1="325.40" x2="269.90" y2="325.40" stroke="#0000ff" stroke-opacity="0.48" stroke-width="0.5"/>
</g>
<path d="M235.46,346.72v-1.25M235.46,308.44v1.25M249.46,346.72v-1.25M249.46,308.44v1.25M263.47,346.72v-1.25M263.47,308.44v1.25M232.05,339.06h1.25M269.90,339.06h-1.25M232.05,327.58h1.25M269.90,327.58h-1.25M232.05,316.10h1.25M269.90,316.10h-1.25" stroke="#444" stroke-width="0.38" fill="none"/>
<rect x="232.05" y="308.44" width="37.85" height="38.28" fill="none" stroke="#1a1a1a" stroke-opacity="0.31" stroke-width="0.6"/>
<clipPath id="c8_4"><rect x="269.90" y="308.44" width="37.85" height="38.28"/></clipPath>
<g clip-path="url(#c8_4)">
<ellipse cx="0" cy="0" rx="14.74" ry="7.94" fill="#8c8cff" transform="translate(289.51,325.40) rotate(134.01)"/>
<ellipse cx="0" cy="0" rx="9.26" ry="4.99" fill="#0000ff" transform="translate(289.51,325.40) rotate(134.01)"/>
<ellipse cx="0" cy="0" rx="14.28" ry="7.13" fill="rgba(250,157,160,0.92)" transform="translate(289.20,326.36) rotate(137.19)"/>
<ellipse cx="0" cy="0" rx="8.97" ry="4.48" fill="#de001c" transform="translate(289.20,326.36) rotate(137.19)"/>
<line x1="289.20" y1="308.44" x2="289.20" y2="346.72" stroke="#ff0000" stroke-opacity="0.42" stroke-width="0.5"/>
<line x1="269.90" y1="326.36" x2="307.75" y2="326.36" stroke="#ff0000" stroke-opacity="0.42" stroke-width="0.5"/>
<line x1="289.51" y1="308.44" x2="289.51" y2="346.72" stroke="#0000ff" stroke-opacity="0.48" stroke-width="0.5"/>
<line x1="269.90" y1="325.40" x2="307.75" y2="325.40" stroke="#0000ff" stroke-opacity="0.48" stroke-width="0.5"/>
</g>
<path d="M271.72,346.72v-1.25M271.72,308.44v1.25M280.27,346.72v-1.25M280.27,308.44v1.25M288.82,346.72v-1.25M288.82,308.44v1.25M297.38,346.72v-1.25M297.38,308.44v1.25M305.93,346.72v-1.25M305.93,308.44v1.25M269.90,339.06h1.25M307.75,339.06h-1.25M269.90,327.58h1.25M307.75,327.58h-1.25M269.90,316.10h1.25M307.75,316.10h-1.25" stroke="#444" stroke-width="0.38" fill="none"/>
<rect x="269.90" y="308.44" width="37.85" height="38.28" fill="none" stroke="#1a1a1a" stroke-opacity="0.31" stroke-width="0.6"/>
<clipPath id="c8_5"><rect x="307.75" y="308.44" width="37.85" height="38.28"/></clipPath>
<g clip-path="url(#c8_5)">
<ellipse cx="0" cy="0" rx="14.74" ry="7.94" fill="#8c8cff" transform="translate(327.36,325.40) rotate(134.01)"/>
<ellipse cx="0" cy="0" rx="9.26" ry="4.99" fill="#0000ff" transform="translate(327.36,325.40) rotate(134.01)"/>
<ellipse cx="0" cy="0" rx="14.28" ry="7.13" fill="rgba(250,157,160,0.92)" transform="translate(327.05,326.36) rotate(137.19)"/>
<ellipse cx="0" cy="0" rx="8.97" ry="4.48" fill="#de001c" transform="translate(327.05,326.36) rotate(137.19)"/>
<line x1="327.05" y1="308.44" x2="327.05" y2="346.72" stroke="#ff0000" stroke-opacity="0.42" stroke-width="0.5"/>
<line x1="307.75" y1="326.36" x2="345.60" y2="326.36" stroke="#ff0000" stroke-opacity="0.42" stroke-width="0.5"/>
<line x1="327.36" y1="308.44" x2="327.36" y2="346.72" stroke="#0000ff" stroke-opacity="0.48" stroke-width="0.5"/>
<line x1="307.75" y1="325.40" x2="345.60" y2="325.40" stroke="#0000ff" stroke-opacity="0.48" stroke-width="0.5"/>
</g>
<path d="M309.72,346.72v-1.25M309.72,308.44v1.25M318.20,346.72v-1.25M318.20,308.44v1.25M326.68,346.72v-1.25M326.68,308.44v1.25M335.15,346.72v-1.25M335.15,308.44v1.25M343.63,346.72v-1.25M343.63,308.44v1.25M307.75,339.06h1.25M345.60,339.06h-1.25M307.75,327.58h1.25M345.60,327.58h-1.25M307.75,316.10h1.25M345.60,316.10h-1.25" stroke="#444" stroke-width="0.38" fill="none"/>
<rect x="307.75" y="308.44" width="37.85" height="38.28" fill="none" stroke="#1a1a1a" stroke-opacity="0.31" stroke-width="0.6"/>
<clipPath id="c8_6"><rect x="345.60" y="308.44" width="37.85" height="38.28"/></clipPath>
<g clip-path="url(#c8_6)">
<ellipse cx="0" cy="0" rx="16.53" ry="2.65" fill="#8c8cff" transform="translate(365.05,325.40) rotate(45.58)"/>
<ellipse cx="0" cy="0" rx="10.38" ry="1.66" fill="#0000ff" transform="translate(365.05,325.40) rotate(45.58)"/>
<ellipse cx="0" cy="0" rx="15.78" ry="2.39" fill="rgba(250,157,160,0.92)" transform="translate(364.90,326.36) rotate(-136.38)"/>
<ellipse cx="0" cy="0" rx="9.91" ry="1.50" fill="#de001c" transform="translate(364.90,326.36) rotate(-136.38)"/>
<line x1="364.90" y1="308.44" x2="364.90" y2="346.72" stroke="#ff0000" stroke-opacity="0.42" stroke-width="0.5"/>
<line x1="345.60" y1="326.36" x2="383.45" y2="326.36" stroke="#ff0000" stroke-opacity="0.42" stroke-width="0.5"/>
<line x1="365.05" y1="308.44" x2="365.05" y2="346.72" stroke="#0000ff" stroke-opacity="0.48" stroke-width="0.5"/>
<line x1="345.60" y1="325.40" x2="383.45" y2="325.40" stroke="#0000ff" stroke-opacity="0.48" stroke-width="0.5"/>
</g>
<path d="M353.93,346.72v-1.25M353.93,308.44v1.25M363.77,346.72v-1.25M363.77,308.44v1.25M373.61,346.72v-1.25M373.61,308.44v1.25M345.60,339.06h1.25M383.45,339.06h-1.25M345.60,327.58h1.25M383.45,327.58h-1.25M345.60,316.10h1.25M383.45,316.10h-1.25" stroke="#444" stroke-width="0.38" fill="none"/>
<rect x="345.60" y="308.44" width="37.85" height="38.28" fill="none" stroke="#1a1a1a" stroke-opacity="0.31" stroke-width="0.6"/>
<clipPath id="c8_7"><rect x="383.45" y="308.44" width="37.85" height="38.28"/></clipPath>
<g clip-path="url(#c8_7)">
<ellipse cx="0" cy="0" rx="16.53" ry="2.65" fill="#8c8cff" transform="translate(402.60,325.40) rotate(134.42)"/>
<ellipse cx="0" cy="0" rx="10.38" ry="1.66" fill="#0000ff" transform="translate(402.60,325.40) rotate(134.42)"/>
<ellipse cx="0" cy="0" rx="15.78" ry="2.39" fill="rgba(250,157,160,0.92)" transform="translate(402.41,326.36) rotate(136.38)"/>
<ellipse cx="0" cy="0" rx="9.91" ry="1.50" fill="#de001c" transform="translate(402.41,326.36) rotate(136.38)"/>
<line x1="402.41" y1="308.44" x2="402.41" y2="346.72" stroke="#ff0000" stroke-opacity="0.42" stroke-width="0.5"/>
<line x1="383.45" y1="326.36" x2="421.30" y2="326.36" stroke="#ff0000" stroke-opacity="0.42" stroke-width="0.5"/>
<line x1="402.60" y1="308.44" x2="402.60" y2="346.72" stroke="#0000ff" stroke-opacity="0.48" stroke-width="0.5"/>
<line x1="383.45" y1="325.40" x2="421.30" y2="325.40" stroke="#0000ff" stroke-opacity="0.48" stroke-width="0.5"/>
</g>
<path d="M390.64,346.72v-1.25M390.64,308.44v1.25M402.38,346.72v-1.25M402.38,308.44v1.25M414.11,346.72v-1.25M414.11,308.44v1.25M383.45,339.06h1.25M421.30,339.06h-1.25M383.45,327.58h1.25M421.30,327.58h-1.25M383.45,316.10h1.25M421.30,316.10h-1.25" stroke="#444" stroke-width="0.38" fill="none"/>
<rect x="383.45" y="308.44" width="37.85" height="38.28" fill="none" stroke="#1a1a1a" stroke-opacity="0.31" stroke-width="0.6"/>
<clipPath id="c8_8"><rect x="421.30" y="308.44" width="37.85" height="38.28"/></clipPath>
<g clip-path="url(#c8_8)">
<line x1="441.44" y1="308.44" x2="441.44" y2="346.72" stroke="#ff0000" stroke-opacity="0.42" stroke-width="0.5"/>
<line x1="437.04" y1="308.44" x2="437.04" y2="346.72" stroke="#ff0000" stroke-opacity="0.27" stroke-width="0.5"/>
<line x1="445.83" y1="308.44" x2="445.83" y2="346.72" stroke="#ff0000" stroke-opacity="0.27" stroke-width="0.5"/>
<line x1="442.38" y1="308.44" x2="442.38" y2="346.72" stroke="#0000ff" stroke-opacity="0.42" stroke-width="0.5"/>
<line x1="437.62" y1="308.44" x2="437.62" y2="346.72" stroke="#0000ff" stroke-opacity="0.27" stroke-width="0.5"/>
<line x1="447.14" y1="308.44" x2="447.14" y2="346.72" stroke="#0000ff" stroke-opacity="0.27" stroke-width="0.5"/>
<polyline points="421.30,346.12 421.78,346.12 422.26,346.12 422.74,346.12 423.22,346.12 423.70,346.12 424.17,346.12 424.65,346.12 425.13,346.12 425.61,346.12 426.09,346.12 426.57,346.11 427.05,346.11 427.53,346.10 428.01,346.09 428.49,346.07 428.97,346.03 429.44,345.98 429.92,345.91 430.40,345.80 430.88,345.65 431.36,345.43 431.84,345.12 432.32,344.71 432.80,344.17 433.28,343.46 433.76,342.55 434.24,341.42 434.72,340.05 435.19,338.41 435.67,336.49 436.15,334.32 436.63,331.90 437.11,329.30 437.59,326.56 438.07,323.77 438.55,321.04 439.03,318.47 439.51,316.16 439.99,314.23 440.46,312.77 440.94,311.86 441.42,311.54 441.90,311.83 442.38,312.71 442.86,314.14 443.34,316.04 443.82,318.33 444.30,320.89 444.78,323.62 445.26,326.40 445.73,329.15 446.21,331.76 446.69,334.19 447.17,336.38 447.65,338.31 448.13,339.96 448.61,341.35 449.09,342.49 449.57,343.41 450.05,344.13 450.53,344.68 451.01,345.10 451.48,345.41 451.96,345.64 452.44,345.79 452.92,345.90 453.40,345.98 453.88,346.03 454.36,346.06 454.84,346.09 455.32,346.10 455.80,346.11 456.28,346.11 456.75,346.12 457.23,346.12 457.71,346.12 458.19,346.12 458.67,346.12 459.15,346.12" fill="none" stroke="#ff0000" stroke-opacity="0.55" stroke-width="0.5"/>
<polyline points="421.30,346.12 421.78,346.12 422.26,346.12 422.74,346.12 423.22,346.12 423.70,346.12 424.17,346.12 424.65,346.12 425.13,346.12 425.61,346.12 426.09,346.11 426.57,346.11 427.05,346.10 427.53,346.09 428.01,346.08 428.49,346.06 428.97,346.03 429.44,345.98 429.92,345.91 430.40,345.81 430.88,345.67 431.36,345.47 431.84,345.21 432.32,344.87 432.80,344.42 433.28,343.83 433.76,343.10 434.24,342.19 434.72,341.08 435.19,339.76 435.67,338.21 436.15,336.43 436.63,334.42 437.11,332.21 437.59,329.83 438.07,327.33 438.55,324.76 439.03,322.21 439.51,319.75 439.99,317.47 440.46,315.47 440.94,313.81 441.42,312.57 441.90,311.80 442.38,311.54 442.86,311.80 443.34,312.56 443.82,313.80 444.30,315.46 444.78,317.46 445.26,319.74 445.73,322.19 446.21,324.75 446.69,327.31 447.17,329.81 447.65,332.20 448.13,334.41 448.61,336.42 449.09,338.20 449.57,339.75 450.05,341.08 450.53,342.18 451.01,343.10 451.48,343.83 451.96,344.41 452.44,344.87 452.92,345.21 453.40,345.47 453.88,345.67 454.36,345.81 454.84,345.91 455.32,345.98 455.80,346.02 456.28,346.06 456.75,346.08 457.23,346.09 457.71,346.10 458.19,346.11 458.67,346.11 459.15,346.12" fill="none" stroke="#0000ff" stroke-opacity="0.55" stroke-width="0.5"/>
</g>
<path d="M428.87,346.72v-1.25M428.87,308.44v1.25M440.23,346.72v-1.25M440.23,308.44v1.25M451.58,346.72v-1.25M451.58,308.44v1.25" stroke="#444" stroke-width="0.38" fill="none"/>
<rect x="421.30" y="308.44" width="37.85" height="38.28" fill="none" stroke="#1a1a1a" stroke-opacity="0.31" stroke-width="0.6"/>
<clipPath id="c9_0"><rect x="118.50" y="346.72" width="37.85" height="38.28"/></clipPath>
<g clip-path="url(#c9_0)">
<ellipse cx="0" cy="0" rx="11.86" ry="11.72" fill="#8c8cff" transform="translate(138.48,365.40) rotate(90.00)"/>
<ellipse cx="0" cy="0" rx="7.45" ry="7.36" fill="#0000ff" transform="translate(138.48,365.40) rotate(90.00)"/>
<ellipse cx="0" cy="0" rx="11.30" ry="11.17" fill="rgba(250,157,160,0.92)" transform="translate(136.29,365.63) rotate(90.00)"/>
<ellipse cx="0" cy="0" rx="7.10" ry="7.02" fill="#de001c" transform="translate(136.29,365.63) rotate(90.00)"/>
<line x1="136.29" y1="346.72" x2="136.29" y2="385.00" stroke="#ff0000" stroke-opacity="0.42" stroke-width="0.5"/>
<line x1="118.50" y1="365.63" x2="156.35" y2="365.63" stroke="#ff0000" stroke-opacity="0.42" stroke-width="0.5"/>
<line x1="138.48" y1="346.72" x2="138.48" y2="385.00" stroke="#0000ff" stroke-opacity="0.48" stroke-width="0.5"/>
<line x1="118.50" y1="365.40" x2="156.35" y2="365.40" stroke="#0000ff" stroke-opacity="0.48" stroke-width="0.5"/>
</g>
<path d="M126.18,385.00v-1.25M126.18,346.72v1.25M138.03,385.00v-1.25M138.03,346.72v1.25M149.88,385.00v-1.25M149.88,346.72v1.25M118.50,377.73h1.25M156.35,377.73h-1.25M118.50,365.86h1.25M156.35,365.86h-1.25M118.50,353.99h1.25M156.35,353.99h-1.25" stroke="#444" stroke-width="0.38" fill="none"/>
<rect x="118.50" y="346.72" width="37.85" height="38.28" fill="none" stroke="#1a1a1a" stroke-opacity="0.31" stroke-width="0.6"/>
<clipPath id="c9_1"><rect x="156.35" y="346.72" width="37.85" height="38.28"/></clipPath>
<g clip-path="url(#c9_1)">
<ellipse cx="0" cy="0" rx="11.86" ry="10.63" fill="#8c8cff" transform="translate(173.00,365.40) rotate(90.00)"/>
<ellipse cx="0" cy="0" rx="7.45" ry="6.67" fill="#0000ff" transform="translate(173.00,365.40) rotate(90.00)"/>
<ellipse cx="0" cy="0" rx="11.30" ry="10.17" fill="rgba(250,157,160,0.92)" transform="translate(178.68,365.63) rotate(90.00)"/>
<ellipse cx="0" cy="0" rx="7.10" ry="6.39" fill="#de001c" transform="translate(178.68,365.63) rotate(90.00)"/>
<line x1="178.68" y1="346.72" x2="178.68" y2="385.00" stroke="#ff0000" stroke-opacity="0.42" stroke-width="0.5"/>
<line x1="156.35" y1="365.63" x2="194.20" y2="365.63" stroke="#ff0000" stroke-opacity="0.42" stroke-width="0.5"/>
<line x1="173.00" y1="346.72" x2="173.00" y2="385.00" stroke="#0000ff" stroke-opacity="0.48" stroke-width="0.5"/>
<line x1="156.35" y1="365.40" x2="194.20" y2="365.40" stroke="#0000ff" stroke-opacity="0.48" stroke-width="0.5"/>
</g>
<path d="M161.19,385.00v-1.25M161.19,346.72v1.25M173.12,385.00v-1.25M173.12,346.72v1.25M185.04,385.00v-1.25M185.04,346.72v1.25M156.35,377.73h1.25M194.20,377.73h-1.25M156.35,365.86h1.25M194.20,365.86h-1.25M156.35,353.99h1.25M194.20,353.99h-1.25" stroke="#444" stroke-width="0.38" fill="none"/>
<rect x="156.35" y="346.72" width="37.85" height="38.28" fill="none" stroke="#1a1a1a" stroke-opacity="0.31" stroke-width="0.6"/>
<clipPath id="c9_2"><rect x="194.20" y="346.72" width="37.85" height="38.28"/></clipPath>
<g clip-path="url(#c9_2)">
<ellipse cx="0" cy="0" rx="12.26" ry="11.30" fill="#8c8cff" transform="translate(213.88,365.40) rotate(130.98)"/>
<ellipse cx="0" cy="0" rx="7.70" ry="7.10" fill="#0000ff" transform="translate(213.88,365.40) rotate(130.98)"/>
<ellipse cx="0" cy="0" rx="12.10" ry="10.70" fill="rgba(250,157,160,0.92)" transform="translate(214.26,365.63) rotate(139.96)"/>
<ellipse cx="0" cy="0" rx="7.60" ry="6.72" fill="#de001c" transform="translate(214.26,365.63) rotate(139.96)"/>
<line x1="214.26" y1="346.72" x2="214.26" y2="385.00" stroke="#ff0000" stroke-opacity="0.42" stroke-width="0.5"/>
<line x1="194.20" y1="365.63" x2="232.05" y2="365.63" stroke="#ff0000" stroke-opacity="0.42" stroke-width="0.5"/>
<line x1="213.88" y1="346.72" x2="213.88" y2="385.00" stroke="#0000ff" stroke-opacity="0.48" stroke-width="0.5"/>
<line x1="194.20" y1="365.40" x2="232.05" y2="365.40" stroke="#0000ff" stroke-opacity="0.48" stroke-width="0.5"/>
</g>
<path d="M197.61,385.00v-1.25M197.61,346.72v1.25M213.12,385.00v-1.25M213.12,346.72v1.25M228.64,385.00v-1.25M228.64,346.72v1.25M194.20,377.73h1.25M232.05,377.73h-1.25M194.20,365.86h1.25M232.05,365.86h-1.25M194.20,353.99h1.25M232.05,353.99h-1.25" stroke="#444" stroke-width="0.38" fill="none"/>
<rect x="194.20" y="346.72" width="37.85" height="38.28" fill="none" stroke="#1a1a1a" stroke-opacity="0.31" stroke-width="0.6"/>
<clipPath id="c9_3"><rect x="232.05" y="346.72" width="37.85" height="38.28"/></clipPath>
<g clip-path="url(#c9_3)">
<ellipse cx="0" cy="0" rx="12.26" ry="11.30" fill="#8c8cff" transform="translate(251.43,365.40) rotate(130.98)"/>
<ellipse cx="0" cy="0" rx="7.70" ry="7.10" fill="#0000ff" transform="translate(251.43,365.40) rotate(130.98)"/>
<ellipse cx="0" cy="0" rx="12.10" ry="10.70" fill="rgba(250,157,160,0.92)" transform="translate(251.77,365.63) rotate(139.96)"/>
<ellipse cx="0" cy="0" rx="7.60" ry="6.72" fill="#de001c" transform="translate(251.77,365.63) rotate(139.96)"/>
<line x1="251.77" y1="346.72" x2="251.77" y2="385.00" stroke="#ff0000" stroke-opacity="0.42" stroke-width="0.5"/>
<line x1="232.05" y1="365.63" x2="269.90" y2="365.63" stroke="#ff0000" stroke-opacity="0.42" stroke-width="0.5"/>
<line x1="251.43" y1="346.72" x2="251.43" y2="385.00" stroke="#0000ff" stroke-opacity="0.48" stroke-width="0.5"/>
<line x1="232.05" y1="365.40" x2="269.90" y2="365.40" stroke="#0000ff" stroke-opacity="0.48" stroke-width="0.5"/>
</g>
<path d="M235.46,385.00v-1.25M235.46,346.72v1.25M249.46,385.00v-1.25M249.46,346.72v1.25M263.47,385.00v-1.25M263.47,346.72v1.25M232.05,377.73h1.25M269.90,377.73h-1.25M232.05,365.86h1.25M269.90,365.86h-1.25M232.05,353.99h1.25M269.90,353.99h-1.25" stroke="#444" stroke-width="0.38" fill="none"/>
<rect x="232.05" y="346.72" width="37.85" height="38.28" fill="none" stroke="#1a1a1a" stroke-opacity="0.31" stroke-width="0.6"/>
<clipPath id="c9_4"><rect x="269.90" y="346.72" width="37.85" height="38.28"/></clipPath>
<g clip-path="url(#c9_4)">
<ellipse cx="0" cy="0" rx="12.26" ry="11.30" fill="#8c8cff" transform="translate(289.51,365.40) rotate(130.98)"/>
<ellipse cx="0" cy="0" rx="7.70" ry="7.10" fill="#0000ff" transform="translate(289.51,365.40) rotate(130.98)"/>
<ellipse cx="0" cy="0" rx="12.10" ry="10.70" fill="rgba(250,157,160,0.92)" transform="translate(289.20,365.63) rotate(139.96)"/>
<ellipse cx="0" cy="0" rx="7.60" ry="6.72" fill="#de001c" transform="translate(289.20,365.63) rotate(139.96)"/>
<line x1="289.20" y1="346.72" x2="289.20" y2="385.00" stroke="#ff0000" stroke-opacity="0.42" stroke-width="0.5"/>
<line x1="269.90" y1="365.63" x2="307.75" y2="365.63" stroke="#ff0000" stroke-opacity="0.42" stroke-width="0.5"/>
<line x1="289.51" y1="346.72" x2="289.51" y2="385.00" stroke="#0000ff" stroke-opacity="0.48" stroke-width="0.5"/>
<line x1="269.90" y1="365.40" x2="307.75" y2="365.40" stroke="#0000ff" stroke-opacity="0.48" stroke-width="0.5"/>
</g>
<path d="M271.72,385.00v-1.25M271.72,346.72v1.25M280.27,385.00v-1.25M280.27,346.72v1.25M288.82,385.00v-1.25M288.82,346.72v1.25M297.38,385.00v-1.25M297.38,346.72v1.25M305.93,385.00v-1.25M305.93,346.72v1.25M269.90,377.73h1.25M307.75,377.73h-1.25M269.90,365.86h1.25M307.75,365.86h-1.25M269.90,353.99h1.25M307.75,353.99h-1.25" stroke="#444" stroke-width="0.38" fill="none"/>
<rect x="269.90" y="346.72" width="37.85" height="38.28" fill="none" stroke="#1a1a1a" stroke-opacity="0.31" stroke-width="0.6"/>
<clipPath id="c9_5"><rect x="307.75" y="346.72" width="37.85" height="38.28"/></clipPath>
<g clip-path="url(#c9_5)">
<ellipse cx="0" cy="0" rx="12.26" ry="11.30" fill="#8c8cff" transform="translate(327.36,365.40) rotate(130.98)"/>
<ellipse cx="0" cy="0" rx="7.70" ry="7.10" fill="#0000ff" transform="translate(327.36,365.40) rotate(130.98)"/>
<ellipse cx="0" cy="0" rx="12.10" ry="10.70" fill="rgba(250,157,160,0.92)" transform="translate(327.05,365.63) rotate(139.96)"/>
<ellipse cx="0" cy="0" rx="7.60" ry="6.72" fill="#de001c" transform="translate(327.05,365.63) rotate(139.96)"/>
<line x1="327.05" y1="346.72" x2="327.05" y2="385.00" stroke="#ff0000" stroke-opacity="0.42" stroke-width="0.5"/>
<line x1="307.75" y1="365.63" x2="345.60" y2="365.63" stroke="#ff0000" stroke-opacity="0.42" stroke-width="0.5"/>
<line x1="327.36" y1="346.72" x2="327.36" y2="385.00" stroke="#0000ff" stroke-opacity="0.48" stroke-width="0.5"/>
<line x1="307.75" y1="365.40" x2="345.60" y2="365.40" stroke="#0000ff" stroke-opacity="0.48" stroke-width="0.5"/>
</g>
<path d="M309.72,385.00v-1.25M309.72,346.72v1.25M318.20,385.00v-1.25M318.20,346.72v1.25M326.68,385.00v-1.25M326.68,346.72v1.25M335.15,385.00v-1.25M335.15,346.72v1.25M343.63,385.00v-1.25M343.63,346.72v1.25M307.75,377.73h1.25M345.60,377.73h-1.25M307.75,365.86h1.25M345.60,365.86h-1.25M307.75,353.99h1.25M345.60,353.99h-1.25" stroke="#444" stroke-width="0.38" fill="none"/>
<rect x="307.75" y="346.72" width="37.85" height="38.28" fill="none" stroke="#1a1a1a" stroke-opacity="0.31" stroke-width="0.6"/>
<clipPath id="c9_6"><rect x="345.60" y="346.72" width="37.85" height="38.28"/></clipPath>
<g clip-path="url(#c9_6)">
<ellipse cx="0" cy="0" rx="11.86" ry="11.72" fill="#8c8cff" transform="translate(365.05,365.40) rotate(90.00)"/>
<ellipse cx="0" cy="0" rx="7.45" ry="7.36" fill="#0000ff" transform="translate(365.05,365.40) rotate(90.00)"/>
<ellipse cx="0" cy="0" rx="11.54" ry="11.30" fill="rgba(250,157,160,0.92)" transform="translate(364.90,365.63) rotate(0.00)"/>
<ellipse cx="0" cy="0" rx="7.25" ry="7.10" fill="#de001c" transform="translate(364.90,365.63) rotate(0.00)"/>
<line x1="364.90" y1="346.72" x2="364.90" y2="385.00" stroke="#ff0000" stroke-opacity="0.42" stroke-width="0.5"/>
<line x1="345.60" y1="365.63" x2="383.45" y2="365.63" stroke="#ff0000" stroke-opacity="0.42" stroke-width="0.5"/>
<line x1="365.05" y1="346.72" x2="365.05" y2="385.00" stroke="#0000ff" stroke-opacity="0.48" stroke-width="0.5"/>
<line x1="345.60" y1="365.40" x2="383.45" y2="365.40" stroke="#0000ff" stroke-opacity="0.48" stroke-width="0.5"/>
</g>
<path d="M353.93,385.00v-1.25M353.93,346.72v1.25M363.77,385.00v-1.25M363.77,346.72v1.25M373.61,385.00v-1.25M373.61,346.72v1.25M345.60,377.73h1.25M383.45,377.73h-1.25M345.60,365.86h1.25M383.45,365.86h-1.25M345.60,353.99h1.25M383.45,353.99h-1.25" stroke="#444" stroke-width="0.38" fill="none"/>
<rect x="345.60" y="346.72" width="37.85" height="38.28" fill="none" stroke="#1a1a1a" stroke-opacity="0.31" stroke-width="0.6"/>
<clipPath id="c9_7"><rect x="383.45" y="346.72" width="37.85" height="38.28"/></clipPath>
<g clip-path="url(#c9_7)">
<ellipse cx="0" cy="0" rx="11.86" ry="11.72" fill="#8c8cff" transform="translate(402.60,365.40) rotate(90.00)"/>
<ellipse cx="0" cy="0" rx="7.45" ry="7.36" fill="#0000ff" transform="translate(402.60,365.40) rotate(90.00)"/>
<ellipse cx="0" cy="0" rx="11.54" ry="11.30" fill="rgba(250,157,160,0.92)" transform="translate(402.41,365.63) rotate(0.00)"/>
<ellipse cx="0" cy="0" rx="7.25" ry="7.10" fill="#de001c" transform="translate(402.41,365.63) rotate(0.00)"/>
<line x1="402.41" y1="346.72" x2="402.41" y2="385.00" stroke="#ff0000" stroke-opacity="0.42" stroke-width="0.5"/>
<line x1="383.45" y1="365.63" x2="421.30" y2="365.63" stroke="#ff0000" stroke-opacity="0.42" stroke-width="0.5"/>
<line x1="402.60" y1="346.72" x2="402.60" y2="385.00" stroke="#0000ff" stroke-opacity="0.48" stroke-width="0.5"/>
<line x1="383.45" y1="365.40" x2="421.30" y2="365.40" stroke="#0000ff" stroke-opacity="0.48" stroke-width="0.5"/>
</g>
<path d="M390.64,385.00v-1.25M390.64,346.72v1.25M402.38,385.00v-1.25M402.38,346.72v1.25M414.11,385.00v-1.25M414.11,346.72v1.25M383.45,377.73h1.25M421.30,377.73h-1.25M383.45,365.86h1.25M421.30,365.86h-1.25M383.45,353.99h1.25M421.30,353.99h-1.25" stroke="#444" stroke-width="0.38" fill="none"/>
<rect x="383.45" y="346.72" width="37.85" height="38.28" fill="none" stroke="#1a1a1a" stroke-opacity="0.31" stroke-width="0.6"/>
<clipPath id="c9_8"><rect x="421.30" y="346.72" width="37.85" height="38.28"/></clipPath>
<g clip-path="url(#c9_8)">
<ellipse cx="0" cy="0" rx="11.86" ry="11.82" fill="#8c8cff" transform="translate(442.38,365.40) rotate(90.00)"/>
<ellipse cx="0" cy="0" rx="7.45" ry="7.42" fill="#0000ff" transform="translate(442.38,365.40) rotate(90.00)"/>
<ellipse cx="0" cy="0" rx="11.30" ry="10.90" fill="rgba(250,157,160,0.92)" transform="translate(441.44,365.63) rotate(90.00)"/>
<ellipse cx="0" cy="0" rx="7.10" ry="6.85" fill="#de001c" transform="translate(441.44,365.63) rotate(90.00)"/>
<line x1="441.44" y1="346.72" x2="441.44" y2="385.00" stroke="#ff0000" stroke-opacity="0.42" stroke-width="0.5"/>
<line x1="421.30" y1="365.63" x2="459.15" y2="365.63" stroke="#ff0000" stroke-opacity="0.42" stroke-width="0.5"/>
<line x1="442.38" y1="346.72" x2="442.38" y2="385.00" stroke="#0000ff" stroke-opacity="0.48" stroke-width="0.5"/>
<line x1="421.30" y1="365.40" x2="459.15" y2="365.40" stroke="#0000ff" stroke-opacity="0.48" stroke-width="0.5"/>
</g>
<path d="M428.87,385.00v-1.25M428.87,346.72v1.25M440.23,385.00v-1.25M440.23,346.72v1.25M451.58,385.00v-1.25M451.58,346.72v1.25M421.30,377.73h1.25M459.15,377.73h-1.25M421.30,365.86h1.25M459.15,365.86h-1.25M421.30,353.99h1.25M459.15,353.99h-1.25" stroke="#444" stroke-width="0.38" fill="none"/>
<rect x="421.30" y="346.72" width="37.85" height="38.28" fill="none" stroke="#1a1a1a" stroke-opacity="0.31" stroke-width="0.6"/>
<clipPath id="c9_9"><rect x="459.15" y="346.72" width="37.85" height="38.28"/></clipPath>
<g clip-path="url(#c9_9)">
<line x1="478.30" y1="346.72" x2="478.30" y2="385.00" stroke="#ff0000" stroke-opacity="0.42" stroke-width="0.5"/>
<line x1="473.87" y1="346.72" x2="473.87" y2="385.00" stroke="#ff0000" stroke-opacity="0.27" stroke-width="0.5"/>
<line x1="482.74" y1="346.72" x2="482.74" y2="385.00" stroke="#ff0000" stroke-opacity="0.27" stroke-width="0.5"/>
<line x1="478.53" y1="346.72" x2="478.53" y2="385.00" stroke="#0000ff" stroke-opacity="0.42" stroke-width="0.5"/>
<line x1="473.88" y1="346.72" x2="473.88" y2="385.00" stroke="#0000ff" stroke-opacity="0.27" stroke-width="0.5"/>
<line x1="483.18" y1="346.72" x2="483.18" y2="385.00" stroke="#0000ff" stroke-opacity="0.27" stroke-width="0.5"/>
<polyline points="459.15,384.40 459.63,384.40 460.11,384.40 460.59,384.40 461.07,384.40 461.55,384.40 462.02,384.39 462.50,384.39 462.98,384.38 463.46,384.37 463.94,384.35 464.42,384.32 464.90,384.28 465.38,384.23 465.86,384.15 466.34,384.03 466.82,383.87 467.29,383.66 467.77,383.37 468.25,382.99 468.73,382.50 469.21,381.88 469.69,381.11 470.17,380.15 470.65,379.00 471.13,377.64 471.61,376.05 472.09,374.24 472.57,372.22 473.04,370.01 473.52,367.64 474.00,365.16 474.48,362.63 474.96,360.13 475.44,357.73 475.92,355.52 476.40,353.57 476.88,351.98 477.36,350.79 477.84,350.06 478.31,349.82 478.79,350.08 479.27,350.84 479.75,352.05 480.23,353.67 480.71,355.63 481.19,357.85 481.67,360.26 482.15,362.76 482.63,365.29 483.11,367.76 483.58,370.13 484.06,372.33 484.54,374.34 485.02,376.14 485.50,377.71 485.98,379.07 486.46,380.21 486.94,381.15 487.42,381.92 487.90,382.53 488.38,383.01 488.86,383.39 489.33,383.67 489.81,383.88 490.29,384.04 490.77,384.15 491.25,384.23 491.73,384.29 492.21,384.32 492.69,384.35 493.17,384.37 493.65,384.38 494.13,384.39 494.60,384.39 495.08,384.40 495.56,384.40 496.04,384.40 496.52,384.40 497.00,384.40" fill="none" stroke="#ff0000" stroke-opacity="0.55" stroke-width="0.5"/>
<polyline points="459.15,384.40 459.63,384.40 460.11,384.40 460.59,384.40 461.07,384.39 461.55,384.39 462.02,384.39 462.50,384.38 462.98,384.37 463.46,384.35 463.94,384.32 464.42,384.29 464.90,384.24 465.38,384.16 465.86,384.06 466.34,383.92 466.82,383.74 467.29,383.49 467.77,383.16 468.25,382.75 468.73,382.22 469.21,381.56 469.69,380.76 470.17,379.78 470.65,378.62 471.13,377.26 471.61,375.70 472.09,373.94 472.57,371.99 473.04,369.86 473.52,367.60 474.00,365.23 474.48,362.83 474.96,360.44 475.44,358.13 475.92,355.98 476.40,354.06 476.88,352.43 477.36,351.16 477.84,350.30 478.31,349.87 478.79,349.89 479.27,350.37 479.75,351.28 480.23,352.59 480.71,354.25 481.19,356.20 481.67,358.36 482.15,360.68 482.63,363.08 483.11,365.48 483.58,367.84 484.06,370.09 484.54,372.20 485.02,374.13 485.50,375.87 485.98,377.41 486.46,378.75 486.94,379.89 487.42,380.85 487.90,381.64 488.38,382.28 488.86,382.80 489.33,383.20 489.81,383.52 490.29,383.76 490.77,383.94 491.25,384.07 491.73,384.17 492.21,384.24 492.69,384.29 493.17,384.33 493.65,384.35 494.13,384.37 494.60,384.38 495.08,384.39 495.56,384.39 496.04,384.39 496.52,384.40 497.00,384.40" fill="none" stroke="#0000ff" stroke-opacity="0.55" stroke-width="0.5"/>
</g>
<path d="M464.45,385.00v-1.25M464.45,346.72v1.25M478.08,385.00v-1.25M478.08,346.72v1.25M491.70,385.00v-1.25M491.70,346.72v1.25" stroke="#444" stroke-width="0.38" fill="none"/>
<rect x="459.15" y="346.72" width="37.85" height="38.28" fill="none" stroke="#1a1a1a" stroke-opacity="0.31" stroke-width="0.6"/>
<g font-family="Liberation Sans, sans-serif" font-size="7.0" fill="#000" stroke="#000" stroke-width="0.2" text-anchor="middle">
<text x="137.43" y="395.8" textLength="35.3" lengthAdjust="spacingAndGlyphs"><tspan font-style="italic">N</tspan><tspan dy="1.3" font-size="4.9">acc</tspan><tspan dy="-1.3"> / 10</tspan><tspan dy="-2.8" font-size="4.9">−15</tspan></text>
<text x="175.28" y="395.8" textLength="30.5" lengthAdjust="spacingAndGlyphs"><tspan font-style="italic">δx</tspan><tspan> / 10</tspan><tspan dy="-2.8" font-size="4.9">−12</tspan></text>
<text x="213.12" y="395.8" textLength="22.3" lengthAdjust="spacingAndGlyphs"><tspan>log</tspan><tspan dy="1.3" font-size="4.9">10</tspan><tspan dy="-1.3" font-style="italic" dx="0.9">A</tspan><tspan dy="1.3" font-size="4.9">1</tspan></text>
<text x="250.98" y="395.8" textLength="6.7" lengthAdjust="spacingAndGlyphs"><tspan font-style="italic">α</tspan><tspan dy="1.3" font-size="4.9">1</tspan></text>
<text x="288.82" y="395.8" textLength="22.5" lengthAdjust="spacingAndGlyphs"><tspan>log</tspan><tspan dy="1.3" font-size="4.9">10</tspan><tspan dy="-1.3" font-style="italic" dx="0.9">A</tspan><tspan dy="1.3" font-size="4.9">2</tspan></text>
<text x="326.68" y="395.8" textLength="6.7" lengthAdjust="spacingAndGlyphs"><tspan font-style="italic">α</tspan><tspan dy="1.3" font-size="4.9">2</tspan></text>
<text x="364.53" y="395.8" textLength="28.4" lengthAdjust="spacingAndGlyphs"><tspan font-style="italic">log</tspan><tspan dy="1.3" font-size="4.9">10</tspan><tspan dy="-1.3" dx="0.9">Ω</tspan><tspan dy="1.3" font-size="4.9">ast</tspan></text>
<text x="402.38" y="395.8" textLength="3.0" lengthAdjust="spacingAndGlyphs"><tspan font-style="italic">ε</tspan></text>
<text x="440.23" y="395.8" textLength="26.2" lengthAdjust="spacingAndGlyphs"><tspan>log</tspan><tspan dy="1.3" font-size="4.9">10</tspan><tspan dy="-1.3" font-style="italic" dx="0.9">B</tspan><tspan dy="1.3" font-size="4.9">ref</tspan></text>
<text x="478.08" y="395.8" textLength="43.2" lengthAdjust="spacingAndGlyphs"><tspan>log</tspan><tspan dy="1.3" font-size="4.9">10</tspan><tspan dy="-1.3" dx="0.9">(</tspan><tspan font-style="italic">f</tspan><tspan dy="1.3" font-size="4.9">ref</tspan><tspan dy="-1.3"> / Hz)</tspan></text>
<text transform="translate(108.3,59.62) rotate(-90)" textLength="30.5" lengthAdjust="spacingAndGlyphs"><tspan font-style="italic">δx</tspan><tspan> / 10</tspan><tspan dy="-2.8" font-size="4.9">−12</tspan></text>
<text transform="translate(108.3,97.90) rotate(-90)" textLength="22.3" lengthAdjust="spacingAndGlyphs"><tspan>log</tspan><tspan dy="1.3" font-size="4.9">10</tspan><tspan dy="-1.3" font-style="italic" dx="0.9">A</tspan><tspan dy="1.3" font-size="4.9">1</tspan></text>
<text transform="translate(108.3,136.18) rotate(-90)" textLength="6.7" lengthAdjust="spacingAndGlyphs"><tspan font-style="italic">α</tspan><tspan dy="1.3" font-size="4.9">1</tspan></text>
<text transform="translate(108.3,174.46) rotate(-90)" textLength="22.5" lengthAdjust="spacingAndGlyphs"><tspan>log</tspan><tspan dy="1.3" font-size="4.9">10</tspan><tspan dy="-1.3" font-style="italic" dx="0.9">A</tspan><tspan dy="1.3" font-size="4.9">2</tspan></text>
<text transform="translate(108.3,212.74) rotate(-90)" textLength="6.7" lengthAdjust="spacingAndGlyphs"><tspan font-style="italic">α</tspan><tspan dy="1.3" font-size="4.9">2</tspan></text>
<text transform="translate(108.3,251.02) rotate(-90)" textLength="28.4" lengthAdjust="spacingAndGlyphs"><tspan font-style="italic">log</tspan><tspan dy="1.3" font-size="4.9">10</tspan><tspan dy="-1.3" dx="0.9">Ω</tspan><tspan dy="1.3" font-size="4.9">ast</tspan></text>
<text transform="translate(108.3,289.30) rotate(-90)" textLength="3.0" lengthAdjust="spacingAndGlyphs"><tspan font-style="italic">ε</tspan></text>
<text transform="translate(108.3,327.58) rotate(-90)" textLength="26.2" lengthAdjust="spacingAndGlyphs"><tspan>log</tspan><tspan dy="1.3" font-size="4.9">10</tspan><tspan dy="-1.3" font-style="italic" dx="0.9">B</tspan><tspan dy="1.3" font-size="4.9">ref</tspan></text>
<text transform="translate(108.3,365.86) rotate(-90)" textLength="43.2" lengthAdjust="spacingAndGlyphs"><tspan>log</tspan><tspan dy="1.3" font-size="4.9">10</tspan><tspan dy="-1.3" dx="0.9">(</tspan><tspan font-style="italic">f</tspan><tspan dy="1.3" font-size="4.9">ref</tspan><tspan dy="-1.3"> / Hz)</tspan></text>
</g>
<g font-family="Liberation Sans, sans-serif" font-size="2.7" fill="#262626" text-anchor="middle">
<text x="126.18" y="387.9">0.00</text>
<text x="138.03" y="387.9">0.00</text>
<text x="149.88" y="387.9">0.00</text>
<text x="161.19" y="387.9">0.00</text>
<text x="173.12" y="387.9">0.00</text>
<text x="185.04" y="387.9">0.00</text>
<text x="197.61" y="387.9">0.00</text>
<text x="213.12" y="387.9">0.00</text>
<text x="228.64" y="387.9">0.00</text>
<text x="235.46" y="387.9">0.00</text>
<text x="249.46" y="387.9">0.00</text>
<text x="263.47" y="387.9">0.00</text>
<text x="271.72" y="387.9">0.0</text>
<text x="280.27" y="387.9">0.0</text>
<text x="288.82" y="387.9">0.0</text>
<text x="297.38" y="387.9">0.0</text>
<text x="305.93" y="387.9">0.0</text>
<text x="309.72" y="387.9">0.0</text>
<text x="318.20" y="387.9">0.0</text>
<text x="326.68" y="387.9">0.0</text>
<text x="335.15" y="387.9">0.0</text>
<text x="343.63" y="387.9">0.0</text>
<text x="353.93" y="387.9">0.00</text>
<text x="363.77" y="387.9">0.00</text>
<text x="373.61" y="387.9">0.00</text>
<text x="390.64" y="387.9">0.00</text>
<text x="402.38" y="387.9">0.00</text>
<text x="414.11" y="387.9">0.00</text>
<text x="428.87" y="387.9">0.00</text>
<text x="440.23" y="387.9">0.00</text>
<text x="451.58" y="387.9">0.00</text>
<text x="464.45" y="387.9">0.00</text>
<text x="478.08" y="387.9">0.00</text>
<text x="491.70" y="387.9">0.00</text>
</g>
<g font-family="Liberation Sans, sans-serif" font-size="2.7" fill="#262626" text-anchor="end">
<text x="117.0" y="75.55">0.000</text>
<text x="117.0" y="69.16">0.000</text>
<text x="117.0" y="62.77">0.000</text>
<text x="117.0" y="56.37">0.000</text>
<text x="117.0" y="49.98">0.000</text>
<text x="117.0" y="43.59">0.000</text>
<text x="117.0" y="112.91">−00.00</text>
<text x="117.0" y="105.45">−00.00</text>
<text x="117.0" y="97.98">−00.00</text>
<text x="117.0" y="90.52">−00.00</text>
<text x="117.0" y="83.06">−00.00</text>
<text x="117.0" y="151.19">−00.00</text>
<text x="117.0" y="137.03">−00.00</text>
<text x="117.0" y="122.87">−00.00</text>
<text x="117.0" y="189.86">−00.00</text>
<text x="117.0" y="182.58">−00.00</text>
<text x="117.0" y="175.31">−00.00</text>
<text x="117.0" y="168.04">−00.00</text>
<text x="117.0" y="160.76">−00.00</text>
<text x="117.0" y="229.67">−00.00</text>
<text x="117.0" y="221.63">−00.00</text>
<text x="117.0" y="213.59">−00.00</text>
<text x="117.0" y="205.55">−00.00</text>
<text x="117.0" y="197.51">−00.00</text>
<text x="117.0" y="262.97">−00.00</text>
<text x="117.0" y="251.87">−00.00</text>
<text x="117.0" y="240.77">−00.00</text>
<text x="117.0" y="302.02">0.000</text>
<text x="117.0" y="290.15">0.000</text>
<text x="117.0" y="278.28">0.000</text>
<text x="117.0" y="339.91">−00.00</text>
<text x="117.0" y="328.43">−00.00</text>
<text x="117.0" y="316.95">−00.00</text>
<text x="117.0" y="378.58">−00.00</text>
<text x="117.0" y="366.71">−00.00</text>
<text x="117.0" y="354.84">−00.00</text>
</g>
<line x1="200" y1="17.2" x2="213" y2="17.2" stroke="#0000ff" stroke-width="1.3"/>
<line x1="200" y1="25.7" x2="213" y2="25.7" stroke="#ff0000" stroke-width="1.3"/>
<g font-family="Liberation Sans, sans-serif" fill="#000" stroke="#000" stroke-width="0.1">
<text x="216.7" y="19.4" font-size="6.2" textLength="41.6" lengthAdjust="spacingAndGlyphs">Fisher Forecast</text>
<text x="216.7" y="27.9" font-size="6.2" textLength="29.5" lengthAdjust="spacingAndGlyphs">NS Results</text>
<text x="227" y="52" font-size="5.6" textLength="35.8" lengthAdjust="spacingAndGlyphs">ln BF = 42.24</text>
</g>
<rect x="319.6" y="47.0" width="140.0" height="139.4" fill="#fff"/>
<clipPath id="ins"><rect x="319.6" y="47" width="140" height="139.4"/></clipPath>
<g clip-path="url(#ins)">
<path d="M312.91,47.0V186.4M318.83,47.0V186.4M323.03,47.0V186.4M326.29,47.0V186.4M328.95,47.0V186.4M331.20,47.0V186.4M333.14,47.0V186.4M334.86,47.0V186.4M346.51,47.0V186.4M352.43,47.0V186.4M356.63,47.0V186.4M359.89,47.0V186.4M362.55,47.0V186.4M364.80,47.0V186.4M366.74,47.0V186.4M368.46,47.0V186.4M380.11,47.0V186.4M386.03,47.0V186.4M390.23,47.0V186.4M393.49,47.0V186.4M396.15,47.0V186.4M398.40,47.0V186.4M400.34,47.0V186.4M402.06,47.0V186.4M413.71,47.0V186.4M419.63,47.0V186.4M423.83,47.0V186.4M427.09,47.0V186.4M429.75,47.0V186.4M432.00,47.0V186.4M433.94,47.0V186.4M435.66,47.0V186.4M447.31,47.0V186.4M453.23,47.0V186.4M457.43,47.0V186.4M460.69,47.0V186.4M463.35,47.0V186.4M465.60,47.0V186.4M467.54,47.0V186.4M469.26,47.0V186.4" stroke="#efefef" stroke-width="0.4" fill="none"/>
<path d="M336.40,47.0V186.4M370.00,47.0V186.4M403.60,47.0V186.4M437.20,47.0V186.4M319.6,61.40H459.6M319.6,79.90H459.6M319.6,98.40H459.6M319.6,116.90H459.6M319.6,135.40H459.6M319.6,153.90H459.6M319.6,172.40H459.6" stroke="#e0e0e0" stroke-width="0.5" fill="none"/>
<polyline points="319.60,91.00 335.00,90.10 355.00,88.70 362.00,88.40 372.00,88.60 379.00,89.80 384.00,92.00 386.00,93.70 392.00,98.60 459.60,152.60" fill="none" stroke="#808080" stroke-width="0.6" stroke-opacity="1" stroke-linejoin="round" stroke-linecap="round"/>
<polyline points="319.60,100.60 459.60,88.00" fill="none" stroke="#66b866" stroke-width="1.0" stroke-opacity="1" stroke-linejoin="round" stroke-linecap="round"/>
<polyline points="319.60,116.30 330.00,112.80 340.00,109.60 350.00,106.40 360.00,103.20 370.00,100.20 378.00,98.30 384.00,97.30 389.00,97.00 393.00,97.30 397.00,98.40 402.00,100.60 407.00,104.50 412.00,110.00 420.00,121.30 459.60,179.60" fill="none" stroke="#ffc46a" stroke-width="1.05" stroke-opacity="1" stroke-linejoin="round" stroke-linecap="round"/>
<polyline points="319.60,74.60 328.30,78.30 337.70,82.10 347.00,85.70 355.00,87.90 368.30,91.00 377.70,92.60 387.00,93.70 392.00,93.40 398.00,91.80 404.00,89.20 410.00,86.40" fill="none" stroke="#c27ad2" stroke-width="1.05" stroke-opacity="1" stroke-linejoin="round" stroke-linecap="round"/>
<circle cx="320.00" cy="74.77" r="0.52" fill="#1010d8"/>
<circle cx="322.70" cy="75.94" r="0.52" fill="#1010d8"/>
<circle cx="325.21" cy="77.01" r="0.52" fill="#1010d8"/>
<circle cx="327.55" cy="77.98" r="0.52" fill="#1010d8"/>
<circle cx="329.72" cy="78.87" r="0.52" fill="#1010d8"/>
<circle cx="331.74" cy="79.69" r="0.52" fill="#1010d8"/>
<circle cx="333.62" cy="80.45" r="0.52" fill="#1010d8"/>
<circle cx="335.36" cy="81.16" r="0.52" fill="#1010d8"/>
<circle cx="336.99" cy="81.81" r="0.52" fill="#1010d8"/>
<circle cx="338.50" cy="82.42" r="0.52" fill="#1010d8"/>
<circle cx="339.90" cy="82.97" r="0.52" fill="#1010d8"/>
<circle cx="341.21" cy="83.49" r="0.52" fill="#1010d8"/>
<circle cx="342.43" cy="83.97" r="0.52" fill="#1010d8"/>
<circle cx="343.56" cy="84.38" r="0.52" fill="#1010d8"/>
<circle cx="344.61" cy="84.75" r="0.52" fill="#1010d8"/>
<circle cx="345.58" cy="85.10" r="0.52" fill="#1010d8"/>
<circle cx="346.49" cy="85.42" r="0.52" fill="#1010d8"/>
<circle cx="347.34" cy="85.68" r="0.52" fill="#1010d8"/>
<circle cx="348.13" cy="85.88" r="0.52" fill="#1010d8"/>
<circle cx="348.86" cy="86.06" r="0.52" fill="#1010d8"/>
<circle cx="349.54" cy="86.23" r="0.52" fill="#1010d8"/>
<circle cx="350.17" cy="86.39" r="0.52" fill="#1010d8"/>
<circle cx="350.76" cy="86.54" r="0.52" fill="#1010d8"/>
<circle cx="351.30" cy="86.64" r="0.52" fill="#1010d8"/>
<circle cx="351.81" cy="86.72" r="0.52" fill="#1010d8"/>
<polyline points="352.29,86.78 354.50,87.10 357.70,87.40 365.70,87.40 373.70,87.40 377.70,88.30 381.70,90.30 384.30,91.70 387.50,92.40 391.00,92.70 394.00,92.30 398.00,91.20 404.00,88.80 410.00,86.00 418.00,82.80 426.00,79.00 430.00,76.50 434.00,72.80 437.00,70.00 440.00,68.40 442.50,68.00 444.50,65.50 447.00,62.20 449.00,62.40 450.50,63.20 452.00,60.00 453.50,58.00 455.00,59.60 456.30,57.00 457.30,55.20 458.40,56.40 459.60,53.40" fill="none" stroke="#1010d8" stroke-width="1.7" stroke-opacity="1" stroke-linejoin="round" stroke-linecap="round"/>
</g>
<rect x="319.6" y="47.0" width="140.0" height="139.4" fill="none" stroke="#b0b0b0" stroke-width="0.7"/>
<rect x="322" y="152.2" width="25.5" height="32" rx="0.8" fill="#fff" fill-opacity="0.85" stroke="#d4d4d4" stroke-width="0.45"/>
<circle cx="327.6" cy="155.6" r="0.75" fill="#1010d8"/>
<line x1="323.7" y1="161.8" x2="331.9" y2="161.8" stroke="#808080" stroke-width="0.55"/>
<line x1="323.7" y1="167.7" x2="331.9" y2="167.7" stroke="#66b866" stroke-width="1.0"/>
<line x1="323.7" y1="173.9" x2="331.9" y2="173.9" stroke="#ffc46a" stroke-width="1.1"/>
<line x1="323.7" y1="180.1" x2="331.9" y2="180.1" stroke="#c27ad2" stroke-width="1.1"/>
<g font-family="Liberation Sans, sans-serif" font-size="4.1" fill="#111" stroke="#111" stroke-width="0.05">
<text x="335" y="157.0" textLength="10.2" lengthAdjust="spacingAndGlyphs">data</text>
<text x="335" y="163.20000000000002" textLength="11.2" lengthAdjust="spacingAndGlyphs">Ω<tspan font-size="2.9" dy="0.8">DWD</tspan></text>
<text x="335" y="169.1" textLength="7.4" lengthAdjust="spacingAndGlyphs">Ω<tspan font-size="2.9" dy="0.8">PL</tspan></text>
<text x="335" y="175.3" textLength="10.2" lengthAdjust="spacingAndGlyphs">Ω<tspan font-size="2.9" dy="0.8">turn</tspan></text>
<text x="335" y="181.5" textLength="8.3" lengthAdjust="spacingAndGlyphs">Taiji</text>
</g>
<g font-family="Liberation Sans, sans-serif" font-size="3.1" fill="#333">
<text x="336.70" y="190.6" text-anchor="middle">10<tspan font-size="2.2" dy="-1.2">−4</tspan></text>
<text x="370.30" y="190.6" text-anchor="middle">10<tspan font-size="2.2" dy="-1.2">−3</tspan></text>
<text x="403.90" y="190.6" text-anchor="middle">10<tspan font-size="2.2" dy="-1.2">−2</tspan></text>
<text x="437.50" y="190.6" text-anchor="middle">10<tspan font-size="2.2" dy="-1.2">−1</tspan></text>
<text x="318" y="62.40" text-anchor="end">10<tspan font-size="2.2" dy="-1.2">−9</tspan></text>
<text x="318" y="80.90" text-anchor="end">10<tspan font-size="2.2" dy="-1.2">−10</tspan></text>
<text x="318" y="99.40" text-anchor="end">10<tspan font-size="2.2" dy="-1.2">−11</tspan></text>
<text x="318" y="117.90" text-anchor="end">10<tspan font-size="2.2" dy="-1.2">−12</tspan></text>
<text x="318" y="136.40" text-anchor="end">10<tspan font-size="2.2" dy="-1.2">−13</tspan></text>
<text x="318" y="154.90" text-anchor="end">10<tspan font-size="2.2" dy="-1.2">−14</tspan></text>
<text x="318" y="173.40" text-anchor="end">10<tspan font-size="2.2" dy="-1.2">−15</tspan></text>
</g>
<g font-family="Liberation Sans, sans-serif" fill="#000" stroke="#000" stroke-width="0.1">
<text x="389.8" y="199" font-size="5.6" text-anchor="middle" textLength="13.5" lengthAdjust="spacingAndGlyphs">f(Hz)</text>
<text x="306.1" y="115.75" font-size="6.1" text-anchor="middle">Ω</text>
</g>
</svg>
</body></html>
